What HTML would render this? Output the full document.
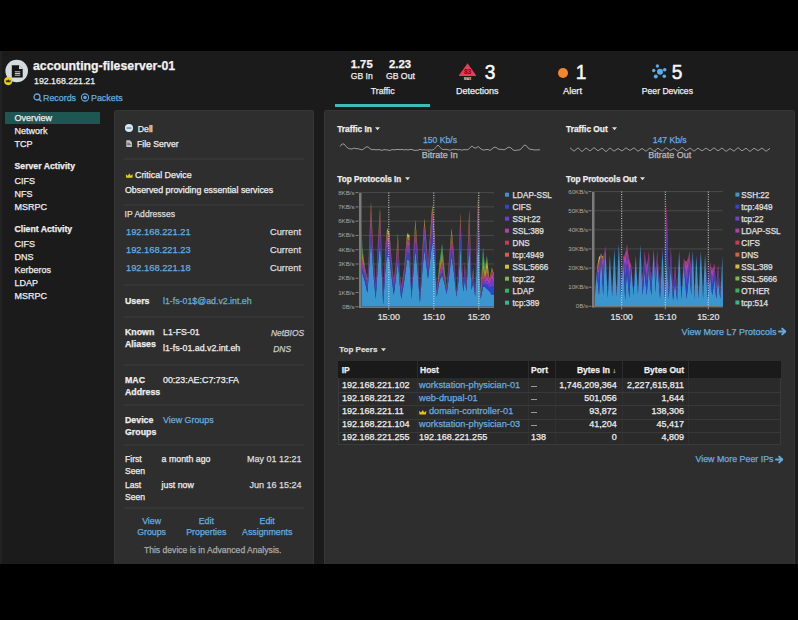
<!DOCTYPE html>
<html><head><meta charset="utf-8"><style>
html,body{margin:0;padding:0;}
body{width:798px;height:620px;background:#000;position:relative;overflow:hidden;font-family:"Liberation Sans", sans-serif;}
.t{position:absolute;white-space:nowrap;line-height:0;-webkit-text-stroke:0.25px currentColor;}
</style></head><body>
<div style="position:absolute;left:0px;top:51px;width:798px;height:513px;background:#1b1b1b;"></div>
<div style="position:absolute;left:0px;top:51px;width:2px;height:513px;background:#222222;"></div>
<svg style="position:absolute;left:0;top:0" width="60" height="100">
<circle cx="16.7" cy="71" r="11.3" fill="#d4dce0"/>
<path d="M11.8 65.2 h7.2 l3.7 3.7 v8.7 h-10.9z" fill="#151515"/>
<path d="M19 65.2 v3.7 h3.7z" fill="#d4dce0"/>
<rect x="14.8" y="71.3" width="5.5" height="1" fill="#c8c8c8"/>
<rect x="14.8" y="73" width="5.5" height="1" fill="#c8c8c8"/>
<rect x="14.8" y="74.7" width="5.5" height="1" fill="#c8c8c8"/>
<circle cx="8.2" cy="81.1" r="4.1" fill="#e6d21a"/>
<path d="M6 82.3 l-0.3-2.6 l1.3 1.1 l1.2-1.6 l1.2 1.6 l1.3-1.1 l-0.3 2.6z" fill="#3a2a10"/>
</svg>
<div class="t" style="left:33.00px;top:66.04px;font-size:12.3px;font-weight:bold;font-style:normal;color:#f2f2f2;">accounting-fileserver-01</div>
<div class="t" style="left:34.00px;top:81.35px;font-size:8.8px;font-weight:normal;font-style:normal;color:#f0f0f0;">192.168.221.21</div>
<svg style="position:absolute;left:30px;top:90px" width="100" height="14">
<circle cx="7" cy="7" r="3" fill="none" stroke="#62a6da" stroke-width="1.3"/>
<path d="M9.2 9.2 l2.2 2.2" stroke="#62a6da" stroke-width="1.5"/>
<circle cx="55" cy="7.5" r="3.6" fill="none" stroke="#62a6da" stroke-width="1.1"/>
<circle cx="55" cy="7.5" r="1.8" fill="#62a6da"/>
</svg>
<div class="t" style="left:43.00px;top:97.92px;font-size:8.9px;font-weight:normal;font-style:normal;color:#68acdf;">Records</div>
<div class="t" style="left:91.00px;top:97.92px;font-size:8.9px;font-weight:normal;font-style:normal;color:#68acdf;">Packets</div>
<div class="t" style="left:361.70px;transform:translateX(-50%);top:64.08px;font-size:11.3px;font-weight:bold;font-style:normal;color:#f4f4f4;">1.75</div>
<div class="t" style="left:400.00px;transform:translateX(-50%);top:64.08px;font-size:11.3px;font-weight:bold;font-style:normal;color:#f4f4f4;">2.23</div>
<div class="t" style="left:361.70px;transform:translateX(-50%);top:76.02px;font-size:8.6px;font-weight:normal;font-style:normal;color:#eeeeee;">GB In</div>
<div class="t" style="left:400.40px;transform:translateX(-50%);top:75.99px;font-size:8.7px;font-weight:normal;font-style:normal;color:#eeeeee;">GB Out</div>
<div class="t" style="left:382.70px;transform:translateX(-50%);top:90.95px;font-size:8.8px;font-weight:normal;font-style:normal;color:#eeeeee;">Traffic</div>
<div style="position:absolute;left:335px;top:104px;width:95px;height:3px;background:#3dbcbe;"></div>
<svg style="position:absolute;left:440px;top:55px" width="60" height="30">
<path d="M27.6 8.3 L36 20.2 Q36.6 21 35.6 21 L19.4 21 Q18.4 21 19 20.2 Z" fill="#ee3a5a"/>
<text x="27.6" y="19.1" font-family="Liberation Sans" font-size="6.6" font-weight="bold" fill="#6a0614" text-anchor="middle">83</text>
<rect x="24" y="22.3" width="7" height="2.5" fill="#1c1c1c"/>
<text x="27.6" y="24.7" font-family="Liberation Sans" font-size="3.2" font-weight="bold" fill="#e6e6e6" text-anchor="middle">MAX</text>
</svg>
<div class="t" style="left:490.00px;transform:translateX(-50%);top:71.99px;font-size:20.8px;font-weight:normal;font-style:normal;color:#f8f8f8;transform:translateX(-50%) scaleX(0.92);-webkit-text-stroke:0.55px #f8f8f8">3</div>
<div class="t" style="left:477.20px;transform:translateX(-50%);top:90.88px;font-size:9.0px;font-weight:normal;font-style:normal;color:#eeeeee;">Detections</div>
<div style="position:absolute;left:557.7px;top:68px;width:10px;height:10px;border-radius:50%;background:#f5862e"></div>
<div class="t" style="left:581.30px;transform:translateX(-50%);top:71.99px;font-size:20.8px;font-weight:normal;font-style:normal;color:#f8f8f8;transform:translateX(-50%) scaleX(0.92);-webkit-text-stroke:0.55px #f8f8f8">1</div>
<div class="t" style="left:572.50px;transform:translateX(-50%);top:90.78px;font-size:9.3px;font-weight:normal;font-style:normal;color:#eeeeee;">Alert</div>
<svg style="position:absolute;left:645px;top:58px" width="30" height="28">
<g fill="#58aee8">
<circle cx="15" cy="13.7" r="3"/>
<circle cx="12.4" cy="8" r="1.7"/>
<circle cx="8.7" cy="12.5" r="1.7"/>
<circle cx="19.7" cy="11.7" r="1.8"/>
<circle cx="10.8" cy="18.6" r="2"/>
<circle cx="19.3" cy="18.3" r="1.8"/>
</g></svg>
<div class="t" style="left:676.70px;transform:translateX(-50%);top:71.99px;font-size:20.8px;font-weight:normal;font-style:normal;color:#f8f8f8;transform:translateX(-50%) scaleX(0.92);-webkit-text-stroke:0.55px #f8f8f8">5</div>
<div class="t" style="left:667.40px;transform:translateX(-50%);top:91.02px;font-size:8.6px;font-weight:normal;font-style:normal;color:#eeeeee;">Peer Devices</div>
<div style="position:absolute;left:5px;top:111.5px;width:95px;height:12.5px;background:#1e5652;"></div>
<div class="t" style="left:14.50px;top:117.88px;font-size:9.0px;font-weight:normal;font-style:normal;color:#eeeeee;">Overview</div>
<div class="t" style="left:14.50px;top:130.88px;font-size:9.0px;font-weight:normal;font-style:normal;color:#eeeeee;">Network</div>
<div class="t" style="left:14.50px;top:143.88px;font-size:9.0px;font-weight:normal;font-style:normal;color:#eeeeee;">TCP</div>
<div class="t" style="left:14.50px;top:166.29px;font-size:8.7px;font-weight:bold;font-style:normal;color:#eeeeee;">Server Activity</div>
<div class="t" style="left:14.50px;top:180.88px;font-size:9.0px;font-weight:normal;font-style:normal;color:#eeeeee;">CIFS</div>
<div class="t" style="left:14.50px;top:193.88px;font-size:9.0px;font-weight:normal;font-style:normal;color:#eeeeee;">NFS</div>
<div class="t" style="left:14.50px;top:206.88px;font-size:9.0px;font-weight:normal;font-style:normal;color:#eeeeee;">MSRPC</div>
<div class="t" style="left:14.50px;top:228.99px;font-size:8.7px;font-weight:bold;font-style:normal;color:#eeeeee;">Client Activity</div>
<div class="t" style="left:14.50px;top:243.88px;font-size:9.0px;font-weight:normal;font-style:normal;color:#eeeeee;">CIFS</div>
<div class="t" style="left:14.50px;top:256.88px;font-size:9.0px;font-weight:normal;font-style:normal;color:#eeeeee;">DNS</div>
<div class="t" style="left:14.50px;top:269.88px;font-size:9.0px;font-weight:normal;font-style:normal;color:#eeeeee;">Kerberos</div>
<div class="t" style="left:14.50px;top:282.88px;font-size:9.0px;font-weight:normal;font-style:normal;color:#eeeeee;">LDAP</div>
<div class="t" style="left:14.50px;top:295.58px;font-size:9.0px;font-weight:normal;font-style:normal;color:#eeeeee;">MSRPC</div>
<div style="position:absolute;left:114px;top:110px;width:200px;height:454px;background:#2e2e2e;border-radius:3px 3px 0 0;border:1px solid #363636;border-bottom:0;box-sizing:border-box"></div>
<div style="position:absolute;left:124px;top:158.0px;width:180px;height:2px;background:#353535;"></div>
<div style="position:absolute;left:124px;top:204.0px;width:180px;height:2px;background:#353535;"></div>
<div style="position:absolute;left:124px;top:284.0px;width:180px;height:2px;background:#353535;"></div>
<div style="position:absolute;left:124px;top:315.5px;width:180px;height:2px;background:#353535;"></div>
<div style="position:absolute;left:124px;top:364.0px;width:180px;height:2px;background:#353535;"></div>
<div style="position:absolute;left:124px;top:404.0px;width:180px;height:2px;background:#353535;"></div>
<div style="position:absolute;left:124px;top:443.5px;width:180px;height:2px;background:#353535;"></div>
<div style="position:absolute;left:124px;top:506.5px;width:180px;height:2px;background:#353535;"></div>
<svg style="position:absolute;left:114px;top:110px" width="30" height="45">
<circle cx="15" cy="18" r="4.3" fill="#cfe3f0"/>
<rect x="12.5" y="17.4" width="5" height="1.3" fill="#3a4a56"/>
<circle cx="15" cy="18" r="5" fill="#1f2a33"/><circle cx="15" cy="18" r="4.1" fill="#d6e8f2"/><rect x="12.6" y="17.5" width="4.8" height="1.1" fill="#5a6a76"/>
<path d="M12.3 30.2 h3.6 l2 2 v4.9 h-5.6z" fill="#c4c4c4"/>
<rect x="13.2" y="32.8" width="2.6" height="0.7" fill="#3a3a3a"/>
<rect x="13.2" y="34.4" width="3.6" height="0.7" fill="#3a3a3a"/>
</svg>
<div class="t" style="left:137.80px;top:128.99px;font-size:8.7px;font-weight:normal;font-style:normal;color:#eeeeee;">Dell</div>
<div class="t" style="left:137.00px;top:144.02px;font-size:8.6px;font-weight:normal;font-style:normal;color:#eeeeee;">File Server</div>
<svg style="position:absolute;left:124px;top:170px" width="12" height="10">
<path d="M2.2 7.8 L1.8 4.2 L3.9 5.7 L5.3 3.3 L6.7 5.7 L8.8 4.2 L8.4 7.8 Z" fill="#e2cf1c"/>
</svg>
<div class="t" style="left:135.00px;top:174.92px;font-size:8.9px;font-weight:normal;font-style:normal;color:#eeeeee;">Critical Device</div>
<div class="t" style="left:125.00px;top:189.95px;font-size:8.8px;font-weight:normal;font-style:normal;color:#eeeeee;">Observed providing essential services</div>
<div class="t" style="left:124.50px;top:214.02px;font-size:8.6px;font-weight:normal;font-style:normal;color:#dddddd;">IP Addresses</div>
<div class="t" style="left:126.00px;top:231.78px;font-size:9.3px;font-weight:normal;font-style:normal;color:#68acdf;">192.168.221.21</div>
<div class="t" style="right:497.00px;top:231.78px;font-size:9.3px;font-weight:normal;font-style:normal;color:#dddddd;">Current</div>
<div class="t" style="left:126.00px;top:250.28px;font-size:9.3px;font-weight:normal;font-style:normal;color:#68acdf;">192.168.221.23</div>
<div class="t" style="right:497.00px;top:250.28px;font-size:9.3px;font-weight:normal;font-style:normal;color:#dddddd;">Current</div>
<div class="t" style="left:126.00px;top:267.78px;font-size:9.3px;font-weight:normal;font-style:normal;color:#68acdf;">192.168.221.18</div>
<div class="t" style="right:497.00px;top:267.78px;font-size:9.3px;font-weight:normal;font-style:normal;color:#dddddd;">Current</div>
<div class="t" style="left:125.00px;top:300.95px;font-size:8.8px;font-weight:bold;font-style:normal;color:#eeeeee;">Users</div>
<div class="t" style="left:163.00px;top:300.95px;font-size:8.8px;font-weight:normal;font-style:normal;color:#68acdf;">l1-fs-01$@ad.v2.int.eh</div>
<div class="t" style="left:125.00px;top:332.45px;font-size:8.8px;font-weight:bold;font-style:normal;color:#eeeeee;">Known</div>
<div class="t" style="left:125.00px;top:343.95px;font-size:8.8px;font-weight:bold;font-style:normal;color:#eeeeee;">Aliases</div>
<div class="t" style="left:163.00px;top:332.45px;font-size:8.8px;font-weight:normal;font-style:normal;color:#eeeeee;">L1-FS-01</div>
<div class="t" style="left:163.00px;top:347.95px;font-size:8.8px;font-weight:normal;font-style:normal;color:#eeeeee;">l1-fs-01.ad.v2.int.eh</div>
<div class="t" style="right:494.00px;top:333.09px;font-size:8.4px;font-weight:normal;font-style:italic;color:#cccccc;">NetBIOS</div>
<div class="t" style="right:507.00px;top:349.09px;font-size:8.4px;font-weight:normal;font-style:italic;color:#cccccc;">DNS</div>
<div class="t" style="left:125.00px;top:379.95px;font-size:8.8px;font-weight:bold;font-style:normal;color:#eeeeee;">MAC</div>
<div class="t" style="left:125.00px;top:391.95px;font-size:8.8px;font-weight:bold;font-style:normal;color:#eeeeee;">Address</div>
<div class="t" style="left:163.00px;top:379.92px;font-size:8.9px;font-weight:normal;font-style:normal;color:#eeeeee;">00:23:AE:C7:73:FA</div>
<div class="t" style="left:125.00px;top:419.95px;font-size:8.8px;font-weight:bold;font-style:normal;color:#eeeeee;">Device</div>
<div class="t" style="left:125.00px;top:431.95px;font-size:8.8px;font-weight:bold;font-style:normal;color:#eeeeee;">Groups</div>
<div class="t" style="left:163.00px;top:419.92px;font-size:8.9px;font-weight:normal;font-style:normal;color:#68acdf;">View Groups</div>
<div class="t" style="left:125.00px;top:459.02px;font-size:8.6px;font-weight:normal;font-style:normal;color:#eeeeee;">First</div>
<div class="t" style="left:125.00px;top:471.02px;font-size:8.6px;font-weight:normal;font-style:normal;color:#eeeeee;">Seen</div>
<div class="t" style="left:161.60px;top:458.95px;font-size:8.8px;font-weight:normal;font-style:normal;color:#eeeeee;">a month ago</div>
<div class="t" style="right:496.50px;top:458.88px;font-size:9.0px;font-weight:normal;font-style:normal;color:#dddddd;">May 01 12:21</div>
<div class="t" style="left:125.00px;top:485.02px;font-size:8.6px;font-weight:normal;font-style:normal;color:#eeeeee;">Last</div>
<div class="t" style="left:125.00px;top:497.02px;font-size:8.6px;font-weight:normal;font-style:normal;color:#eeeeee;">Seen</div>
<div class="t" style="left:161.60px;top:484.95px;font-size:8.8px;font-weight:normal;font-style:normal;color:#eeeeee;">just now</div>
<div class="t" style="right:496.50px;top:484.88px;font-size:9.0px;font-weight:normal;font-style:normal;color:#dddddd;">Jun 16 15:24</div>
<div class="t" style="left:151.60px;transform:translateX(-50%);top:521.45px;font-size:8.8px;font-weight:normal;font-style:normal;color:#68acdf;">View</div>
<div class="t" style="left:151.60px;transform:translateX(-50%);top:531.95px;font-size:8.8px;font-weight:normal;font-style:normal;color:#68acdf;">Groups</div>
<div class="t" style="left:206.30px;transform:translateX(-50%);top:521.45px;font-size:8.8px;font-weight:normal;font-style:normal;color:#68acdf;">Edit</div>
<div class="t" style="left:206.30px;transform:translateX(-50%);top:531.95px;font-size:8.8px;font-weight:normal;font-style:normal;color:#68acdf;">Properties</div>
<div class="t" style="left:267.20px;transform:translateX(-50%);top:521.45px;font-size:8.8px;font-weight:normal;font-style:normal;color:#68acdf;">Edit</div>
<div class="t" style="left:267.20px;transform:translateX(-50%);top:531.95px;font-size:8.8px;font-weight:normal;font-style:normal;color:#68acdf;">Assignments</div>
<div class="t" style="left:212.70px;transform:translateX(-50%);top:550.32px;font-size:8.6px;font-weight:normal;font-style:normal;color:#aaaaaa;">This device is in Advanced Analysis.</div>
<div style="position:absolute;left:324px;top:110px;width:471px;height:454px;background:#2e2e2e;border-radius:3px 3px 0 0;border:1px solid #363636;border-bottom:0;box-sizing:border-box"></div>
<div class="t" style="left:337.20px;top:128.91px;font-size:8.35px;font-weight:bold;font-style:normal;color:#eeeeee;">Traffic In</div>
<div class="t" style="left:566.00px;top:129.11px;font-size:8.35px;font-weight:bold;font-style:normal;color:#eeeeee;">Traffic Out</div>
<svg style="position:absolute;left:375px;top:126.5px" width="6" height="4"><path d="M0 0.3 H5 L2.5 3.2Z" fill="#dddddd"/></svg>
<svg style="position:absolute;left:612px;top:126.5px" width="6" height="4"><path d="M0 0.3 H5 L2.5 3.2Z" fill="#dddddd"/></svg>
<div class="t" style="left:440.00px;transform:translateX(-50%);top:140.02px;font-size:8.6px;font-weight:normal;font-style:normal;color:#68acdf;">150 Kb/s</div>
<div class="t" style="left:439.70px;transform:translateX(-50%);top:154.88px;font-size:9.0px;font-weight:normal;font-style:normal;color:#bbbbbb;">Bitrate In</div>
<div class="t" style="left:669.70px;transform:translateX(-50%);top:140.02px;font-size:8.6px;font-weight:normal;font-style:normal;color:#68acdf;">147 Kb/s</div>
<div class="t" style="left:669.70px;transform:translateX(-50%);top:154.58px;font-size:9.0px;font-weight:normal;font-style:normal;color:#bbbbbb;">Bitrate Out</div>
<svg style="position:absolute;left:0;top:0" width="798" height="620"><polyline points="340,146.5 342,144.0 344,144.0 346,146.5 348,148.2 350,148.9 352,149.0 354,148.0 356,148.7 358,148.7 360,149.3 362,149.9 364,148.7 366,146.9 368,146.9 370,148.7 372,149.7 374,149.5 376,149.9 378,149.6 380,149.7 382,150.4 384,149.6 386,149.8 388,150.1 390,150.5 392,149.5 394,149.9 396,149.6 398,149.4 400,149.6 402,149.4 404,150.0 406,149.5 408,150.0 410,149.4 412,149.4 414,150.4 416,150.3 418,150.2 420,149.3 422,150.0 424,149.7 426,150.1 428,149.9 430,150.0 432,150.1 434,149.4 436,147.2 438,145.0 440,147.2 442,149.4 444,149.5 446,149.3 448,149.7 450,150.3 452,149.5 454,149.3 456,149.4 458,149.8 460,149.6 462,150.2 464,149.5 466,149.8 468,149.6 470,147.8 472,146.0 474,147.8 476,148.1 478,146.5 480,148.1 482,149.7 484,150.1 486,149.6 488,149.5 490,150.4 492,148.9 494,147.3 496,147.3 498,148.9 500,149.4 502,149.3 504,149.9 506,148.9 508,147.3 510,147.3 512,148.9 514,150.5 516,150.3 518,150.0 520,149.8 522,147.9 524,145.3 526,145.3 528,147.9 530,149.3 532,149.4 534,150.0 536,149.9 538,149.9 540,149.7" fill="none" stroke="#9a9a9a" stroke-width="1"/>
<polyline points="570,147.8 574,151.2 578,147.8 582,151.6 586,147.9 590,151.0 594,147.6 598,150.8 602,148.1 606,151.7 610,147.9 614,151.2 618,148.5 622,151.0 626,147.8 630,150.5 634,147.8 638,151.3 642,148.4 646,151.3 650,147.9 654,151.3 658,148.1 662,151.3 666,147.6 670,150.5 674,148.4 678,151.3 682,147.3 686,150.8 690,148.0 694,151.2 698,148.1 702,150.9 706,148.1 710,150.9 714,147.8 718,150.9 722,148.0 726,151.4 730,148.5 734,151.2 738,147.6 742,150.9 746,148.2 750,151.5 754,148.2 758,150.7 762,148.0 766,151.3 770,148.4" fill="none" stroke="#9a9a9a" stroke-width="1"/></svg>
<div class="t" style="left:337.30px;top:179.66px;font-size:8.2px;font-weight:bold;font-style:normal;color:#eeeeee;">Top Protocols In</div>
<svg style="position:absolute;left:404.5px;top:177px" width="6" height="4"><path d="M0 0.3 H5 L2.5 3.2Z" fill="#dddddd"/></svg>
<div class="t" style="left:566.00px;top:179.66px;font-size:8.2px;font-weight:bold;font-style:normal;color:#eeeeee;">Top Protocols Out</div>
<svg style="position:absolute;left:640px;top:177px" width="6" height="4"><path d="M0 0.3 H5 L2.5 3.2Z" fill="#dddddd"/></svg>
<svg style="position:absolute;left:0;top:0" width="798" height="620"><defs><filter id="bl" x="-5%" y="-5%" width="110%" height="110%"><feGaussianBlur stdDeviation="0.55"/></filter></defs>
<line x1="355.5" y1="306.80" x2="358.5" y2="306.80" stroke="#9a9a9a" stroke-width="0.8"/>
<text x="354.5" y="308.80" font-family="Liberation Sans" font-size="6.1" fill="#a8a8a8" text-anchor="end">0B/s</text>
<line x1="361.5" y1="292.53" x2="494" y2="292.53" stroke="#4a4a4a" stroke-width="1"/>
<line x1="355.5" y1="292.53" x2="358.5" y2="292.53" stroke="#9a9a9a" stroke-width="0.8"/>
<text x="354.5" y="294.53" font-family="Liberation Sans" font-size="6.1" fill="#a8a8a8" text-anchor="end">1KB/s</text>
<line x1="361.5" y1="278.25" x2="494" y2="278.25" stroke="#4a4a4a" stroke-width="1"/>
<line x1="355.5" y1="278.25" x2="358.5" y2="278.25" stroke="#9a9a9a" stroke-width="0.8"/>
<text x="354.5" y="280.25" font-family="Liberation Sans" font-size="6.1" fill="#a8a8a8" text-anchor="end">2KB/s</text>
<line x1="361.5" y1="263.98" x2="494" y2="263.98" stroke="#4a4a4a" stroke-width="1"/>
<line x1="355.5" y1="263.98" x2="358.5" y2="263.98" stroke="#9a9a9a" stroke-width="0.8"/>
<text x="354.5" y="265.98" font-family="Liberation Sans" font-size="6.1" fill="#a8a8a8" text-anchor="end">3KB/s</text>
<line x1="361.5" y1="249.70" x2="494" y2="249.70" stroke="#4a4a4a" stroke-width="1"/>
<line x1="355.5" y1="249.70" x2="358.5" y2="249.70" stroke="#9a9a9a" stroke-width="0.8"/>
<text x="354.5" y="251.70" font-family="Liberation Sans" font-size="6.1" fill="#a8a8a8" text-anchor="end">4KB/s</text>
<line x1="361.5" y1="235.43" x2="494" y2="235.43" stroke="#4a4a4a" stroke-width="1"/>
<line x1="355.5" y1="235.43" x2="358.5" y2="235.43" stroke="#9a9a9a" stroke-width="0.8"/>
<text x="354.5" y="237.43" font-family="Liberation Sans" font-size="6.1" fill="#a8a8a8" text-anchor="end">5KB/s</text>
<line x1="361.5" y1="221.15" x2="494" y2="221.15" stroke="#4a4a4a" stroke-width="1"/>
<line x1="355.5" y1="221.15" x2="358.5" y2="221.15" stroke="#9a9a9a" stroke-width="0.8"/>
<text x="354.5" y="223.15" font-family="Liberation Sans" font-size="6.1" fill="#a8a8a8" text-anchor="end">6KB/s</text>
<line x1="361.5" y1="206.88" x2="494" y2="206.88" stroke="#4a4a4a" stroke-width="1"/>
<line x1="355.5" y1="206.88" x2="358.5" y2="206.88" stroke="#9a9a9a" stroke-width="0.8"/>
<text x="354.5" y="208.88" font-family="Liberation Sans" font-size="6.1" fill="#a8a8a8" text-anchor="end">7KB/s</text>
<line x1="361.5" y1="192.60" x2="494" y2="192.60" stroke="#4a4a4a" stroke-width="1"/>
<line x1="355.5" y1="192.60" x2="358.5" y2="192.60" stroke="#9a9a9a" stroke-width="0.8"/>
<text x="354.5" y="194.60" font-family="Liberation Sans" font-size="6.1" fill="#a8a8a8" text-anchor="end">8KB/s</text>
<text x="388.8" y="320" font-family="Liberation Sans" font-size="8.9" fill="#e4e4e4" text-anchor="middle" stroke="#e4e4e4" stroke-width="0.2">15:00</text>
<text x="433.8" y="320" font-family="Liberation Sans" font-size="8.9" fill="#e4e4e4" text-anchor="middle" stroke="#e4e4e4" stroke-width="0.2">15:10</text>
<text x="478.8" y="320" font-family="Liberation Sans" font-size="8.9" fill="#e4e4e4" text-anchor="middle" stroke="#e4e4e4" stroke-width="0.2">15:20</text>
<clipPath id="cin"><rect x="361.5" y="189.6" width="132.5" height="117.20000000000002"/></clipPath><g clip-path="url(#cin)"><g filter="url(#bl)">
<polygon points="361.50,271.24 361.54,271.24 362.33,273.21 364.88,281.51 367.44,292.97 368.81,272.66 370.98,239.15 373.34,272.66 375.70,298.90 377.66,268.87 380.02,242.94 381.59,268.87 383.17,304.82 385.53,267.60 387.10,256.22 389.46,259.38 391.43,275.19 393.78,294.95 395.75,279.14 397.91,259.38 399.68,284.04 401.26,298.90 404.21,281.51 407.15,259.38 409.51,260.65 411.48,298.90 413.64,268.87 415.41,250.53 417.38,268.87 419.93,302.85 422.49,268.87 424.46,249.90 426.82,268.87 427.97,278.98 432.29,241.05 434.85,262.54 436.81,296.68 439.37,281.11 442.12,275.19 444.68,284.04 446.64,294.16 449.20,275.19 451.56,256.22 453.92,272.66 456.48,296.68 458.44,281.51 460.41,246.10 462.37,281.51 463.36,291.63 464.93,277.72 466.31,291.63 469.26,244.21 471.62,290.36 473.19,281.51 475.15,296.68 478.10,233.46 480.66,298.90 483.02,287.04 484.99,287.04 486.95,289.02 489.31,290.99 491.87,294.95 494.42,294.95 496.00,298.90 494.00,298.90 494.00,306.80 496.00,306.80 494.42,306.80 491.87,306.80 489.31,306.80 486.95,306.80 484.99,306.80 483.02,306.80 480.66,306.80 478.10,306.80 475.15,306.80 473.19,306.80 471.62,306.80 469.26,306.80 466.31,306.80 464.93,306.80 463.36,306.80 462.37,306.80 460.41,306.80 458.44,306.80 456.48,306.80 453.92,306.80 451.56,306.80 449.20,306.80 446.64,306.80 444.68,306.80 442.12,306.80 439.37,306.80 436.81,306.80 434.85,306.80 432.29,306.80 427.97,306.80 426.82,306.80 424.46,306.80 422.49,306.80 419.93,306.80 417.38,306.80 415.41,306.80 413.64,306.80 411.48,306.80 409.51,306.80 407.15,306.80 404.21,306.80 401.26,306.80 399.68,306.80 397.91,306.80 395.75,306.80 393.78,306.80 391.43,306.80 389.46,306.80 387.10,306.80 385.53,306.80 383.17,306.80 381.59,306.80 380.02,306.80 377.66,306.80 375.70,306.80 373.34,306.80 370.98,306.80 368.81,306.80 367.44,306.80 364.88,306.80 362.33,306.80 361.54,306.80 361.50,306.80" fill="#3a96cf"/>
<polygon points="361.50,265.87 361.54,265.12 362.33,270.40 364.88,276.48 367.44,289.63 368.81,267.69 370.98,229.36 373.34,266.09 375.70,294.35 377.66,261.54 380.02,231.78 381.59,263.89 383.17,301.41 385.53,259.89 387.10,246.86 389.46,251.01 391.43,270.53 393.78,290.81 395.75,275.00 397.91,251.51 399.68,281.02 401.26,295.33 404.21,277.27 407.15,252.28 409.51,253.96 411.48,296.87 413.64,261.81 415.41,242.14 417.38,262.54 419.93,300.82 422.49,263.44 424.46,239.62 426.82,262.37 427.97,274.15 432.29,228.99 434.85,254.31 436.81,294.83 439.37,279.13 442.12,272.33 444.68,282.16 446.64,291.60 449.20,270.45 451.56,249.54 453.92,266.10 456.48,295.18 458.44,276.54 460.41,235.39 462.37,277.31 463.36,289.02 464.93,272.77 466.31,289.23 469.26,234.93 471.62,287.66 473.19,277.67 475.15,294.84 478.10,223.57 480.66,298.07 483.02,282.91 484.99,284.76 486.95,284.46 489.31,287.72 491.87,286.05 494.42,287.81 496.00,296.67 494.00,296.33 494.00,298.90 496.00,298.90 494.42,294.95 491.87,294.95 489.31,290.99 486.95,289.02 484.99,287.04 483.02,287.04 480.66,298.90 478.10,233.46 475.15,296.68 473.19,281.51 471.62,290.36 469.26,244.21 466.31,291.63 464.93,277.72 463.36,291.63 462.37,281.51 460.41,246.10 458.44,281.51 456.48,296.68 453.92,272.66 451.56,256.22 449.20,275.19 446.64,294.16 444.68,284.04 442.12,275.19 439.37,281.11 436.81,296.68 434.85,262.54 432.29,241.05 427.97,278.98 426.82,268.87 424.46,249.90 422.49,268.87 419.93,302.85 417.38,268.87 415.41,250.53 413.64,268.87 411.48,298.90 409.51,260.65 407.15,259.38 404.21,281.51 401.26,298.90 399.68,284.04 397.91,259.38 395.75,279.14 393.78,294.95 391.43,275.19 389.46,259.38 387.10,256.22 385.53,267.60 383.17,304.82 381.59,268.87 380.02,242.94 377.66,268.87 375.70,298.90 373.34,272.66 370.98,239.15 368.81,272.66 367.44,292.97 364.88,281.51 362.33,273.21 361.54,271.24 361.50,271.24" fill="#2f45d0"/>
<polygon points="361.50,260.21 361.54,258.29 362.33,266.59 364.88,273.10 367.44,285.17 368.81,262.36 370.98,220.21 373.34,261.08 375.70,290.09 377.66,257.08 380.02,223.29 381.59,256.43 383.17,296.45 385.53,254.83 387.10,240.53 389.46,243.91 391.43,265.19 393.78,286.39 395.75,270.20 397.91,246.16 399.68,277.06 401.26,291.86 404.21,272.89 407.15,245.52 409.51,246.03 411.48,294.27 413.64,255.71 415.41,232.83 417.38,256.47 419.93,298.15 422.49,256.82 424.46,231.37 426.82,256.43 427.97,269.79 432.29,220.14 434.85,248.80 436.81,293.30 439.37,277.33 442.12,268.18 444.68,280.47 446.64,289.87 449.20,265.23 451.56,242.15 453.92,260.61 456.48,293.26 458.44,273.45 460.41,227.34 462.37,273.30 463.36,286.61 464.93,267.51 466.31,286.99 469.26,227.20 471.62,284.53 473.19,273.60 475.15,293.12 478.10,214.78 480.66,297.26 483.02,278.25 484.99,282.32 486.95,280.42 489.31,284.42 491.87,278.59 494.42,283.13 496.00,294.25 494.00,293.97 494.00,296.33 496.00,296.67 494.42,287.81 491.87,286.05 489.31,287.72 486.95,284.46 484.99,284.76 483.02,282.91 480.66,298.07 478.10,223.57 475.15,294.84 473.19,277.67 471.62,287.66 469.26,234.93 466.31,289.23 464.93,272.77 463.36,289.02 462.37,277.31 460.41,235.39 458.44,276.54 456.48,295.18 453.92,266.10 451.56,249.54 449.20,270.45 446.64,291.60 444.68,282.16 442.12,272.33 439.37,279.13 436.81,294.83 434.85,254.31 432.29,228.99 427.97,274.15 426.82,262.37 424.46,239.62 422.49,263.44 419.93,300.82 417.38,262.54 415.41,242.14 413.64,261.81 411.48,296.87 409.51,253.96 407.15,252.28 404.21,277.27 401.26,295.33 399.68,281.02 397.91,251.51 395.75,275.00 393.78,290.81 391.43,270.53 389.46,251.01 387.10,246.86 385.53,259.89 383.17,301.41 381.59,263.89 380.02,231.78 377.66,261.54 375.70,294.35 373.34,266.09 370.98,229.36 368.81,267.69 367.44,289.63 364.88,276.48 362.33,270.40 361.54,265.12 361.50,265.87" fill="#6d3fcf"/>
<polygon points="361.50,254.41 361.54,253.71 362.33,263.01 364.88,270.19 367.44,281.73 368.81,257.02 370.98,212.57 373.34,256.31 375.70,287.33 377.66,251.01 380.02,216.92 381.59,251.21 383.17,293.76 385.53,249.61 387.10,235.70 389.46,239.31 391.43,260.64 393.78,282.73 395.75,266.48 397.91,241.07 399.68,273.52 401.26,289.23 404.21,269.89 407.15,240.82 409.51,242.31 411.48,292.59 413.64,251.15 415.41,228.46 417.38,251.82 419.93,296.31 422.49,251.62 424.46,226.64 426.82,250.99 427.97,266.25 432.29,215.23 434.85,244.64 436.81,292.10 439.37,275.07 442.12,263.54 444.68,279.21 446.64,288.33 449.20,261.02 451.56,236.93 453.92,256.80 456.48,292.06 458.44,269.60 460.41,220.88 462.37,270.32 463.36,284.38 464.93,264.52 466.31,284.82 469.26,220.59 471.62,282.75 473.19,270.42 475.15,292.02 478.10,205.16 480.66,296.02 483.02,273.20 484.99,280.42 486.95,274.99 489.31,281.05 491.87,272.38 494.42,278.72 496.00,292.39 494.00,292.34 494.00,293.97 496.00,294.25 494.42,283.13 491.87,278.59 489.31,284.42 486.95,280.42 484.99,282.32 483.02,278.25 480.66,297.26 478.10,214.78 475.15,293.12 473.19,273.60 471.62,284.53 469.26,227.20 466.31,286.99 464.93,267.51 463.36,286.61 462.37,273.30 460.41,227.34 458.44,273.45 456.48,293.26 453.92,260.61 451.56,242.15 449.20,265.23 446.64,289.87 444.68,280.47 442.12,268.18 439.37,277.33 436.81,293.30 434.85,248.80 432.29,220.14 427.97,269.79 426.82,256.43 424.46,231.37 422.49,256.82 419.93,298.15 417.38,256.47 415.41,232.83 413.64,255.71 411.48,294.27 409.51,246.03 407.15,245.52 404.21,272.89 401.26,291.86 399.68,277.06 397.91,246.16 395.75,270.20 393.78,286.39 391.43,265.19 389.46,243.91 387.10,240.53 385.53,254.83 383.17,296.45 381.59,256.43 380.02,223.29 377.66,257.08 375.70,290.09 373.34,261.08 370.98,220.21 368.81,262.36 367.44,285.17 364.88,273.10 362.33,266.59 361.54,258.29 361.50,260.21" fill="#b13db9"/>
<polygon points="361.50,251.33 361.54,250.91 362.33,261.70 364.88,269.14 367.44,280.77 368.81,256.07 370.98,210.77 373.34,255.44 375.70,286.63 377.66,250.02 380.02,214.95 381.59,249.98 383.17,292.88 385.53,248.50 387.10,233.90 389.46,237.87 391.43,259.54 393.78,281.99 395.75,265.38 397.91,239.35 399.68,272.81 401.26,288.50 404.21,268.93 407.15,239.24 409.51,240.74 411.48,292.05 413.64,250.15 415.41,226.90 417.38,250.61 419.93,295.87 422.49,250.42 424.46,225.04 426.82,250.01 427.97,265.18 432.29,212.76 434.85,242.92 436.81,291.71 439.37,273.82 442.12,261.21 444.68,278.53 446.64,287.88 449.20,259.81 451.56,234.84 453.92,255.79 456.48,291.75 458.44,268.93 460.41,219.35 462.37,269.26 463.36,283.91 464.93,263.53 466.31,284.27 469.26,218.88 471.62,282.16 473.19,269.47 475.15,291.74 478.10,202.47 480.66,295.51 483.02,270.80 484.99,279.33 486.95,272.17 489.31,280.43 491.87,270.67 494.42,277.57 496.00,291.90 494.00,291.81 494.00,292.34 496.00,292.39 494.42,278.72 491.87,272.38 489.31,281.05 486.95,274.99 484.99,280.42 483.02,273.20 480.66,296.02 478.10,205.16 475.15,292.02 473.19,270.42 471.62,282.75 469.26,220.59 466.31,284.82 464.93,264.52 463.36,284.38 462.37,270.32 460.41,220.88 458.44,269.60 456.48,292.06 453.92,256.80 451.56,236.93 449.20,261.02 446.64,288.33 444.68,279.21 442.12,263.54 439.37,275.07 436.81,292.10 434.85,244.64 432.29,215.23 427.97,266.25 426.82,250.99 424.46,226.64 422.49,251.62 419.93,296.31 417.38,251.82 415.41,228.46 413.64,251.15 411.48,292.59 409.51,242.31 407.15,240.82 404.21,269.89 401.26,289.23 399.68,273.52 397.91,241.07 395.75,266.48 393.78,282.73 391.43,260.64 389.46,239.31 387.10,235.70 385.53,249.61 383.17,293.76 381.59,251.21 380.02,216.92 377.66,251.01 375.70,287.33 373.34,256.31 370.98,212.57 368.81,257.02 367.44,281.73 364.88,270.19 362.33,263.01 361.54,253.71 361.50,254.41" fill="#c93a55"/>
<polygon points="361.50,245.67 361.54,245.94 362.33,258.07 364.88,268.14 367.44,279.83 368.81,254.68 370.98,205.05 373.34,254.55 375.70,285.88 377.66,248.87 380.02,211.26 381.59,248.86 383.17,291.85 385.53,246.92 387.10,230.69 389.46,235.22 391.43,258.46 393.78,280.97 395.75,264.37 397.91,236.18 399.68,272.01 401.26,287.72 404.21,268.00 407.15,236.38 409.51,237.81 411.48,291.56 413.64,248.87 415.41,222.88 417.38,248.94 419.93,295.45 422.49,248.90 424.46,222.05 426.82,248.64 427.97,264.18 432.29,208.59 434.85,240.44 436.81,291.30 439.37,272.11 442.12,257.09 444.68,276.67 446.64,287.50 449.20,258.66 451.56,231.28 453.92,254.69 456.48,291.35 458.44,268.21 460.41,215.41 462.37,268.29 463.36,283.52 464.93,262.34 466.31,283.58 469.26,213.49 471.62,281.67 473.19,268.22 475.15,291.38 478.10,198.12 480.66,294.25 483.02,266.69 484.99,277.40 486.95,266.66 489.31,279.84 491.87,269.11 494.42,276.35 496.00,291.45 494.00,291.37 494.00,291.81 496.00,291.90 494.42,277.57 491.87,270.67 489.31,280.43 486.95,272.17 484.99,279.33 483.02,270.80 480.66,295.51 478.10,202.47 475.15,291.74 473.19,269.47 471.62,282.16 469.26,218.88 466.31,284.27 464.93,263.53 463.36,283.91 462.37,269.26 460.41,219.35 458.44,268.93 456.48,291.75 453.92,255.79 451.56,234.84 449.20,259.81 446.64,287.88 444.68,278.53 442.12,261.21 439.37,273.82 436.81,291.71 434.85,242.92 432.29,212.76 427.97,265.18 426.82,250.01 424.46,225.04 422.49,250.42 419.93,295.87 417.38,250.61 415.41,226.90 413.64,250.15 411.48,292.05 409.51,240.74 407.15,239.24 404.21,268.93 401.26,288.50 399.68,272.81 397.91,239.35 395.75,265.38 393.78,281.99 391.43,259.54 389.46,237.87 387.10,233.90 385.53,248.50 383.17,292.88 381.59,249.98 380.02,214.95 377.66,250.02 375.70,286.63 373.34,255.44 370.98,210.77 368.81,256.07 367.44,280.77 364.88,269.14 362.33,261.70 361.54,250.91 361.50,251.33" fill="#d9603f"/>
<polygon points="361.50,238.53 361.54,239.16 362.33,255.05 364.88,267.76 367.44,279.48 368.81,254.10 370.98,202.71 373.34,254.07 375.70,285.45 377.66,248.22 380.02,208.69 381.59,248.19 383.17,291.49 385.53,246.32 387.10,228.76 389.46,233.69 391.43,257.89 393.78,280.52 395.75,263.82 397.91,233.79 399.68,271.61 401.26,287.35 404.21,267.67 407.15,233.94 409.51,235.71 411.48,291.29 413.64,248.24 415.41,220.14 417.38,248.31 419.93,295.17 422.49,248.12 424.46,219.05 426.82,248.10 427.97,263.82 432.29,205.60 434.85,238.69 436.81,291.16 439.37,269.92 442.12,253.71 444.68,275.20 446.64,287.31 449.20,257.95 451.56,228.83 453.92,254.04 456.48,291.19 458.44,267.68 460.41,213.11 462.37,267.76 463.36,283.32 464.93,261.81 466.31,283.34 469.26,210.71 471.62,281.37 473.19,267.75 475.15,291.17 478.10,194.28 480.66,293.32 483.02,261.93 484.99,274.54 486.95,259.34 489.31,279.51 491.87,268.16 494.42,275.83 496.00,291.24 494.00,291.19 494.00,291.37 496.00,291.45 494.42,276.35 491.87,269.11 489.31,279.84 486.95,266.66 484.99,277.40 483.02,266.69 480.66,294.25 478.10,198.12 475.15,291.38 473.19,268.22 471.62,281.67 469.26,213.49 466.31,283.58 464.93,262.34 463.36,283.52 462.37,268.29 460.41,215.41 458.44,268.21 456.48,291.35 453.92,254.69 451.56,231.28 449.20,258.66 446.64,287.50 444.68,276.67 442.12,257.09 439.37,272.11 436.81,291.30 434.85,240.44 432.29,208.59 427.97,264.18 426.82,248.64 424.46,222.05 422.49,248.90 419.93,295.45 417.38,248.94 415.41,222.88 413.64,248.87 411.48,291.56 409.51,237.81 407.15,236.38 404.21,268.00 401.26,287.72 399.68,272.01 397.91,236.18 395.75,264.37 393.78,280.97 391.43,258.46 389.46,235.22 387.10,230.69 385.53,246.92 383.17,291.85 381.59,248.86 380.02,211.26 377.66,248.87 375.70,285.88 373.34,254.55 370.98,205.05 368.81,254.68 367.44,279.83 364.88,268.14 362.33,258.07 361.54,245.94 361.50,245.67" fill="#c9c23a"/>
<polygon points="361.50,234.67 361.54,233.26 362.33,251.71 364.88,267.58 367.44,279.36 368.81,253.91 370.98,201.84 373.34,253.83 375.70,285.35 377.66,247.97 380.02,207.83 381.59,247.94 383.17,291.33 385.53,246.10 387.10,228.24 389.46,233.27 391.43,257.74 393.78,280.37 395.75,263.68 397.91,233.20 399.68,271.47 401.26,287.22 404.21,267.52 407.15,233.36 409.51,235.26 411.48,291.18 413.64,247.99 415.41,219.61 417.38,248.03 419.93,295.09 422.49,247.95 424.46,218.51 426.82,247.89 427.97,263.68 432.29,204.80 434.85,238.12 436.81,291.11 439.37,267.41 442.12,249.33 444.68,273.58 446.64,287.23 449.20,257.77 451.56,228.32 453.92,253.88 456.48,291.11 458.44,267.53 460.41,212.57 462.37,267.62 463.36,283.25 464.93,261.65 466.31,283.26 469.26,209.81 471.62,281.27 473.19,267.60 475.15,291.12 478.10,193.11 480.66,292.42 483.02,255.38 484.99,271.64 486.95,257.08 489.31,279.42 491.87,267.83 494.42,275.63 496.00,291.16 494.00,291.13 494.00,291.19 496.00,291.24 494.42,275.83 491.87,268.16 489.31,279.51 486.95,259.34 484.99,274.54 483.02,261.93 480.66,293.32 478.10,194.28 475.15,291.17 473.19,267.75 471.62,281.37 469.26,210.71 466.31,283.34 464.93,261.81 463.36,283.32 462.37,267.76 460.41,213.11 458.44,267.68 456.48,291.19 453.92,254.04 451.56,228.83 449.20,257.95 446.64,287.31 444.68,275.20 442.12,253.71 439.37,269.92 436.81,291.16 434.85,238.69 432.29,205.60 427.97,263.82 426.82,248.10 424.46,219.05 422.49,248.12 419.93,295.17 417.38,248.31 415.41,220.14 413.64,248.24 411.48,291.29 409.51,235.71 407.15,233.94 404.21,267.67 401.26,287.35 399.68,271.61 397.91,233.79 395.75,263.82 393.78,280.52 391.43,257.89 389.46,233.69 387.10,228.76 385.53,246.32 383.17,291.49 381.59,248.19 380.02,208.69 377.66,248.22 375.70,285.45 373.34,254.07 370.98,202.71 368.81,254.10 367.44,279.48 364.88,267.76 362.33,255.05 361.54,239.16 361.50,238.53" fill="#7dbb3a"/>
<polygon points="361.50,228.88 361.54,228.23 362.33,248.71 364.88,267.44 367.44,279.25 368.81,253.66 370.98,201.39 373.34,253.67 375.70,285.21 377.66,247.78 380.02,207.35 381.59,247.73 383.17,291.15 385.53,245.82 387.10,228.02 389.46,232.99 391.43,257.55 393.78,280.27 395.75,263.51 397.91,232.95 399.68,271.37 401.26,287.14 404.21,267.40 407.15,233.03 409.51,234.94 411.48,291.08 413.64,247.74 415.41,219.27 417.38,247.76 419.93,295.02 422.49,247.72 424.46,218.19 426.82,247.71 427.97,263.52 432.29,204.42 434.85,237.93 436.81,291.05 439.37,264.51 442.12,245.58 444.68,271.87 446.64,287.14 449.20,257.62 451.56,228.02 453.92,253.66 456.48,291.05 458.44,267.40 460.41,212.29 462.37,267.44 463.36,283.19 464.93,261.49 466.31,283.17 469.26,209.40 471.62,281.19 473.19,267.43 475.15,291.06 478.10,192.64 480.66,291.48 483.02,250.19 484.99,268.70 486.95,256.29 489.31,279.28 491.87,267.54 494.42,275.43 496.00,291.08 494.00,291.06 494.00,291.13 496.00,291.16 494.42,275.63 491.87,267.83 489.31,279.42 486.95,257.08 484.99,271.64 483.02,255.38 480.66,292.42 478.10,193.11 475.15,291.12 473.19,267.60 471.62,281.27 469.26,209.81 466.31,283.26 464.93,261.65 463.36,283.25 462.37,267.62 460.41,212.57 458.44,267.53 456.48,291.11 453.92,253.88 451.56,228.32 449.20,257.77 446.64,287.23 444.68,273.58 442.12,249.33 439.37,267.41 436.81,291.11 434.85,238.12 432.29,204.80 427.97,263.68 426.82,247.89 424.46,218.51 422.49,247.95 419.93,295.09 417.38,248.03 415.41,219.61 413.64,247.99 411.48,291.18 409.51,235.26 407.15,233.36 404.21,267.52 401.26,287.22 399.68,271.47 397.91,233.20 395.75,263.68 393.78,280.37 391.43,257.74 389.46,233.27 387.10,228.24 385.53,246.10 383.17,291.33 381.59,247.94 380.02,207.83 377.66,247.97 375.70,285.35 373.34,253.83 370.98,201.84 368.81,253.91 367.44,279.36 364.88,267.58 362.33,251.71 361.54,233.26 361.50,234.67" fill="#33b558"/>
<polygon points="361.50,225.79 361.54,225.79 362.33,247.53 364.88,267.28 367.44,279.14 368.81,253.45 370.98,201.10 373.34,253.45 375.70,285.07 377.66,247.53 380.02,207.02 381.59,247.53 383.17,290.99 385.53,245.55 387.10,227.77 389.46,232.71 391.43,257.41 393.78,280.13 395.75,263.33 397.91,232.71 399.68,271.24 401.26,287.04 404.21,267.28 407.15,232.71 409.51,234.68 411.48,290.99 413.64,247.53 415.41,218.88 417.38,247.53 419.93,294.95 422.49,247.53 424.46,217.89 426.82,247.53 427.97,263.33 432.29,204.06 434.85,237.65 436.81,290.99 439.37,263.33 442.12,243.58 444.68,271.24 446.64,287.04 449.20,257.41 451.56,227.77 453.92,253.45 456.48,290.99 458.44,267.28 460.41,211.96 462.37,267.28 463.36,283.09 464.93,261.36 466.31,283.09 469.26,209.00 471.62,281.11 473.19,267.28 475.15,290.99 478.10,192.20 480.66,290.99 483.02,247.53 484.99,267.28 486.95,255.43 489.31,279.14 491.87,267.28 494.42,275.19 496.00,290.99 494.00,290.99 494.00,291.06 496.00,291.08 494.42,275.43 491.87,267.54 489.31,279.28 486.95,256.29 484.99,268.70 483.02,250.19 480.66,291.48 478.10,192.64 475.15,291.06 473.19,267.43 471.62,281.19 469.26,209.40 466.31,283.17 464.93,261.49 463.36,283.19 462.37,267.44 460.41,212.29 458.44,267.40 456.48,291.05 453.92,253.66 451.56,228.02 449.20,257.62 446.64,287.14 444.68,271.87 442.12,245.58 439.37,264.51 436.81,291.05 434.85,237.93 432.29,204.42 427.97,263.52 426.82,247.71 424.46,218.19 422.49,247.72 419.93,295.02 417.38,247.76 415.41,219.27 413.64,247.74 411.48,291.08 409.51,234.94 407.15,233.03 404.21,267.40 401.26,287.14 399.68,271.37 397.91,232.95 395.75,263.51 393.78,280.27 391.43,257.55 389.46,232.99 387.10,228.02 385.53,245.82 383.17,291.15 381.59,247.73 380.02,207.35 377.66,247.78 375.70,285.21 373.34,253.67 370.98,201.39 368.81,253.66 367.44,279.25 364.88,267.44 362.33,248.71 361.54,228.23 361.50,228.88" fill="#34b592"/>
</g></g>
<line x1="388.8" y1="192.6" x2="388.8" y2="306.8" stroke="#eeeeee" stroke-width="0.9" stroke-dasharray="1,1.4"/>
<line x1="388.8" y1="306.8" x2="388.8" y2="309.8" stroke="#aaa" stroke-width="0.8"/>
<line x1="433.8" y1="192.6" x2="433.8" y2="306.8" stroke="#eeeeee" stroke-width="0.9" stroke-dasharray="1,1.4"/>
<line x1="433.8" y1="306.8" x2="433.8" y2="309.8" stroke="#aaa" stroke-width="0.8"/>
<line x1="478.8" y1="192.6" x2="478.8" y2="306.8" stroke="#eeeeee" stroke-width="0.9" stroke-dasharray="1,1.4"/>
<line x1="478.8" y1="306.8" x2="478.8" y2="309.8" stroke="#aaa" stroke-width="0.8"/>
<rect x="359.0" y="192.6" width="2.5" height="115.20000000000002" fill="#7c7c7c"/>
<line x1="359.0" y1="307.3" x2="494" y2="307.3" stroke="#8a8a8a" stroke-width="1"/>
<line x1="588.5" y1="306.30" x2="591.5" y2="306.30" stroke="#9a9a9a" stroke-width="0.8"/>
<text x="588" y="308.30" font-family="Liberation Sans" font-size="6.1" fill="#a8a8a8" text-anchor="end">0B/s</text>
<line x1="594.5" y1="287.18" x2="723" y2="287.18" stroke="#4a4a4a" stroke-width="1"/>
<line x1="588.5" y1="287.18" x2="591.5" y2="287.18" stroke="#9a9a9a" stroke-width="0.8"/>
<text x="588" y="289.18" font-family="Liberation Sans" font-size="6.1" fill="#a8a8a8" text-anchor="end">10KB/s</text>
<line x1="594.5" y1="268.07" x2="723" y2="268.07" stroke="#4a4a4a" stroke-width="1"/>
<line x1="588.5" y1="268.07" x2="591.5" y2="268.07" stroke="#9a9a9a" stroke-width="0.8"/>
<text x="588" y="270.07" font-family="Liberation Sans" font-size="6.1" fill="#a8a8a8" text-anchor="end">20KB/s</text>
<line x1="594.5" y1="248.95" x2="723" y2="248.95" stroke="#4a4a4a" stroke-width="1"/>
<line x1="588.5" y1="248.95" x2="591.5" y2="248.95" stroke="#9a9a9a" stroke-width="0.8"/>
<text x="588" y="250.95" font-family="Liberation Sans" font-size="6.1" fill="#a8a8a8" text-anchor="end">30KB/s</text>
<line x1="594.5" y1="229.83" x2="723" y2="229.83" stroke="#4a4a4a" stroke-width="1"/>
<line x1="588.5" y1="229.83" x2="591.5" y2="229.83" stroke="#9a9a9a" stroke-width="0.8"/>
<text x="588" y="231.83" font-family="Liberation Sans" font-size="6.1" fill="#a8a8a8" text-anchor="end">40KB/s</text>
<line x1="594.5" y1="210.72" x2="723" y2="210.72" stroke="#4a4a4a" stroke-width="1"/>
<line x1="588.5" y1="210.72" x2="591.5" y2="210.72" stroke="#9a9a9a" stroke-width="0.8"/>
<text x="588" y="212.72" font-family="Liberation Sans" font-size="6.1" fill="#a8a8a8" text-anchor="end">50KB/s</text>
<line x1="594.5" y1="191.60" x2="723" y2="191.60" stroke="#4a4a4a" stroke-width="1"/>
<line x1="588.5" y1="191.60" x2="591.5" y2="191.60" stroke="#9a9a9a" stroke-width="0.8"/>
<text x="588" y="193.60" font-family="Liberation Sans" font-size="6.1" fill="#a8a8a8" text-anchor="end">60KB/s</text>
<text x="621.7" y="320" font-family="Liberation Sans" font-size="8.9" fill="#e4e4e4" text-anchor="middle" stroke="#e4e4e4" stroke-width="0.2">15:00</text>
<text x="665.3" y="320" font-family="Liberation Sans" font-size="8.9" fill="#e4e4e4" text-anchor="middle" stroke="#e4e4e4" stroke-width="0.2">15:10</text>
<text x="708.3" y="320" font-family="Liberation Sans" font-size="8.9" fill="#e4e4e4" text-anchor="middle" stroke="#e4e4e4" stroke-width="0.2">15:20</text>
<clipPath id="cout"><rect x="594.5" y="188.6" width="128.5" height="117.70000000000002"/></clipPath><g clip-path="url(#cout)"><g filter="url(#bl)">
<polygon points="594.50,300.56 595.94,282.48 596.84,271.28 597.74,282.48 599.01,295.46 600.17,271.79 601.07,255.56 601.97,271.79 603.12,295.46 604.40,265.22 605.30,245.88 606.20,265.22 607.72,297.88 609.00,271.38 609.90,254.95 610.80,271.38 612.19,296.67 613.47,267.27 614.37,248.91 615.27,267.27 616.67,296.67 617.94,263.57 618.84,243.46 619.74,263.57 621.02,297.88 622.30,274.26 623.20,259.18 624.10,274.26 625.13,300.30 626.17,282.48 627.07,271.28 627.97,282.48 629.24,297.88 630.40,279.19 631.30,266.44 632.20,279.19 633.60,295.46 634.87,271.79 635.77,255.56 636.67,271.79 637.95,294.25 639.47,264.39 640.37,244.67 641.27,264.39 642.54,295.46 643.70,282.48 644.60,271.28 645.50,282.48 646.66,295.46 647.93,279.19 648.83,266.44 649.73,279.19 651.25,295.46 652.77,267.27 653.67,248.91 654.57,267.27 655.48,293.04 656.40,274.26 657.30,259.18 658.20,274.26 660.08,298.90 661.59,268.46 662.49,250.66 663.39,268.46 664.71,298.90 666.75,256.22 668.78,298.90 669.92,278.56 670.82,265.50 671.72,278.56 673.05,300.75 674.18,289.91 675.08,282.20 675.98,289.91 677.12,300.75 678.26,268.46 679.16,250.66 680.06,268.46 681.38,298.90 682.89,276.03 683.79,261.79 684.69,276.03 686.57,298.90 688.45,281.08 689.35,269.21 690.25,281.08 691.20,295.19 691.79,268.46 692.69,250.66 693.59,268.46 694.54,298.90 695.49,272.25 696.39,256.22 697.29,272.25 698.62,298.90 699.94,268.46 700.84,250.66 701.74,268.46 703.06,298.90 704.20,270.99 705.10,254.37 706.00,270.99 707.51,298.90 709.20,283.60 710.10,272.92 711.00,283.60 712.14,295.19 713.47,287.39 714.37,278.49 715.27,287.39 716.22,298.90 717.17,287.39 718.07,278.49 718.97,287.39 720.29,298.90 722.33,256.22 723.00,294.83 723.00,306.30 722.33,306.30 720.29,306.30 718.97,306.30 718.07,306.30 717.17,306.30 716.22,306.30 715.27,306.30 714.37,306.30 713.47,306.30 712.14,306.30 711.00,306.30 710.10,306.30 709.20,306.30 707.51,306.30 706.00,306.30 705.10,306.30 704.20,306.30 703.06,306.30 701.74,306.30 700.84,306.30 699.94,306.30 698.62,306.30 697.29,306.30 696.39,306.30 695.49,306.30 694.54,306.30 693.59,306.30 692.69,306.30 691.79,306.30 691.20,306.30 690.25,306.30 689.35,306.30 688.45,306.30 686.57,306.30 684.69,306.30 683.79,306.30 682.89,306.30 681.38,306.30 680.06,306.30 679.16,306.30 678.26,306.30 677.12,306.30 675.98,306.30 675.08,306.30 674.18,306.30 673.05,306.30 671.72,306.30 670.82,306.30 669.92,306.30 668.78,306.30 666.75,306.30 664.71,306.30 663.39,306.30 662.49,306.30 661.59,306.30 660.08,306.30 658.20,306.30 657.30,306.30 656.40,306.30 655.48,306.30 654.57,306.30 653.67,306.30 652.77,306.30 651.25,306.30 649.73,306.30 648.83,306.30 647.93,306.30 646.66,306.30 645.50,306.30 644.60,306.30 643.70,306.30 642.54,306.30 641.27,306.30 640.37,306.30 639.47,306.30 637.95,306.30 636.67,306.30 635.77,306.30 634.87,306.30 633.60,306.30 632.20,306.30 631.30,306.30 630.40,306.30 629.24,306.30 627.97,306.30 627.07,306.30 626.17,306.30 625.13,306.30 624.10,306.30 623.20,306.30 622.30,306.30 621.02,306.30 619.74,306.30 618.84,306.30 617.94,306.30 616.67,306.30 615.27,306.30 614.37,306.30 613.47,306.30 612.19,306.30 610.80,306.30 609.90,306.30 609.00,306.30 607.72,306.30 606.20,306.30 605.30,306.30 604.40,306.30 603.12,306.30 601.97,306.30 601.07,306.30 600.17,306.30 599.01,306.30 597.74,306.30 596.84,306.30 595.94,306.30 594.50,306.30" fill="#3a96cf"/>
<polygon points="594.50,300.56 595.94,281.64 596.84,270.79 597.74,277.80 599.01,281.58 600.17,267.07 601.07,254.91 601.97,266.28 603.12,283.36 604.40,260.74 605.30,245.66 606.20,264.09 607.72,296.31 609.00,270.50 609.90,254.71 610.80,270.49 612.19,295.54 613.47,266.27 614.37,248.68 615.27,266.31 616.67,295.32 617.94,262.51 618.84,243.26 619.74,262.57 621.02,292.54 622.30,272.96 623.20,258.30 624.10,267.99 625.13,279.69 626.17,270.48 627.07,262.97 627.97,270.71 629.24,283.03 630.40,272.17 631.30,265.98 632.20,278.21 633.60,294.06 634.87,270.83 635.77,255.33 636.67,270.86 637.95,293.06 639.47,263.41 640.37,244.48 641.27,263.42 642.54,289.82 643.70,274.60 644.60,263.85 645.50,271.75 646.66,283.38 647.93,271.69 648.83,261.14 649.73,273.79 651.25,288.98 652.77,265.82 653.67,248.69 654.57,264.76 655.48,286.82 656.40,269.11 657.30,256.05 658.20,271.05 660.08,292.91 661.59,266.84 662.49,249.22 663.39,266.87 664.71,294.53 666.75,233.31 668.78,294.74 669.92,272.96 670.82,258.21 671.72,273.96 673.05,296.11 674.18,284.67 675.08,276.39 675.98,284.92 677.12,297.40 678.26,267.51 679.16,250.30 680.06,267.41 681.38,297.63 682.89,274.63 683.79,260.77 684.69,271.65 686.57,286.88 688.45,273.52 689.35,262.78 690.25,273.59 691.20,285.74 691.79,265.64 692.69,250.24 693.59,267.32 694.54,297.35 695.49,271.29 696.39,255.52 697.29,271.15 698.62,297.44 699.94,267.78 700.84,250.66 701.74,267.55 703.06,297.42 704.20,269.93 705.10,253.63 706.00,270.00 707.51,292.83 709.20,279.69 710.10,268.49 711.00,277.81 712.14,286.14 713.47,279.74 714.37,272.86 715.27,282.48 716.22,293.66 717.17,283.23 718.07,272.86 718.97,283.44 720.29,295.98 722.33,256.22 723.00,294.03 723.00,294.83 722.33,256.22 720.29,298.90 718.97,287.39 718.07,278.49 717.17,287.39 716.22,298.90 715.27,287.39 714.37,278.49 713.47,287.39 712.14,295.19 711.00,283.60 710.10,272.92 709.20,283.60 707.51,298.90 706.00,270.99 705.10,254.37 704.20,270.99 703.06,298.90 701.74,268.46 700.84,250.66 699.94,268.46 698.62,298.90 697.29,272.25 696.39,256.22 695.49,272.25 694.54,298.90 693.59,268.46 692.69,250.66 691.79,268.46 691.20,295.19 690.25,281.08 689.35,269.21 688.45,281.08 686.57,298.90 684.69,276.03 683.79,261.79 682.89,276.03 681.38,298.90 680.06,268.46 679.16,250.66 678.26,268.46 677.12,300.75 675.98,289.91 675.08,282.20 674.18,289.91 673.05,300.75 671.72,278.56 670.82,265.50 669.92,278.56 668.78,298.90 666.75,256.22 664.71,298.90 663.39,268.46 662.49,250.66 661.59,268.46 660.08,298.90 658.20,274.26 657.30,259.18 656.40,274.26 655.48,293.04 654.57,267.27 653.67,248.91 652.77,267.27 651.25,295.46 649.73,279.19 648.83,266.44 647.93,279.19 646.66,295.46 645.50,282.48 644.60,271.28 643.70,282.48 642.54,295.46 641.27,264.39 640.37,244.67 639.47,264.39 637.95,294.25 636.67,271.79 635.77,255.56 634.87,271.79 633.60,295.46 632.20,279.19 631.30,266.44 630.40,279.19 629.24,297.88 627.97,282.48 627.07,271.28 626.17,282.48 625.13,300.30 624.10,274.26 623.20,259.18 622.30,274.26 621.02,297.88 619.74,263.57 618.84,243.46 617.94,263.57 616.67,296.67 615.27,267.27 614.37,248.91 613.47,267.27 612.19,296.67 610.80,271.38 609.90,254.95 609.00,271.38 607.72,297.88 606.20,265.22 605.30,245.88 604.40,265.22 603.12,295.46 601.97,271.79 601.07,255.56 600.17,271.79 599.01,295.46 597.74,282.48 596.84,271.28 595.94,282.48 594.50,300.56" fill="#2f45d0"/>
<polygon points="594.50,300.56 595.94,280.90 596.84,270.40 597.74,273.41 599.01,271.77 600.17,262.33 601.07,254.34 601.97,262.36 603.12,271.29 604.40,256.56 605.30,245.48 606.20,263.21 607.72,294.55 609.00,269.72 609.90,254.52 610.80,269.86 612.19,294.40 613.47,265.42 614.37,248.47 615.27,265.48 616.67,294.29 617.94,261.67 618.84,243.07 619.74,261.71 621.02,288.57 622.30,271.98 623.20,257.53 624.10,261.47 625.13,268.46 626.17,260.86 627.07,253.41 627.97,261.95 629.24,273.41 630.40,268.14 631.30,265.67 632.20,277.57 633.60,293.09 634.87,270.13 635.77,255.13 636.67,270.01 637.95,291.96 639.47,262.65 640.37,244.29 641.27,262.59 642.54,283.62 643.70,270.01 644.60,256.49 645.50,265.87 646.66,276.26 647.93,266.10 648.83,255.99 649.73,269.78 651.25,283.30 652.77,264.92 653.67,248.49 654.57,262.74 655.48,279.29 656.40,265.38 657.30,252.75 658.20,268.68 660.08,288.88 661.59,265.14 662.49,248.35 663.39,265.11 664.71,291.58 666.75,220.19 668.78,289.10 669.92,268.77 670.82,251.96 671.72,268.82 673.05,291.94 674.18,279.77 675.08,270.49 675.98,280.35 677.12,294.82 678.26,266.52 679.16,250.01 680.06,266.51 681.38,296.50 682.89,273.09 683.79,259.61 684.69,266.73 686.57,275.34 688.45,265.59 689.35,256.33 690.25,267.48 691.20,278.74 691.79,263.46 692.69,250.02 693.59,266.49 694.54,296.37 695.49,270.16 696.39,255.02 697.29,270.07 698.62,296.50 699.94,267.13 700.84,250.66 701.74,266.95 703.06,296.49 704.20,268.63 705.10,253.03 706.00,269.02 707.51,288.48 709.20,277.06 710.10,264.90 711.00,273.05 712.14,278.19 713.47,273.11 714.37,268.07 715.27,278.15 716.22,289.56 717.17,279.67 718.07,268.68 718.97,279.51 720.29,294.08 722.33,256.22 723.00,293.60 723.00,294.03 722.33,256.22 720.29,295.98 718.97,283.44 718.07,272.86 717.17,283.23 716.22,293.66 715.27,282.48 714.37,272.86 713.47,279.74 712.14,286.14 711.00,277.81 710.10,268.49 709.20,279.69 707.51,292.83 706.00,270.00 705.10,253.63 704.20,269.93 703.06,297.42 701.74,267.55 700.84,250.66 699.94,267.78 698.62,297.44 697.29,271.15 696.39,255.52 695.49,271.29 694.54,297.35 693.59,267.32 692.69,250.24 691.79,265.64 691.20,285.74 690.25,273.59 689.35,262.78 688.45,273.52 686.57,286.88 684.69,271.65 683.79,260.77 682.89,274.63 681.38,297.63 680.06,267.41 679.16,250.30 678.26,267.51 677.12,297.40 675.98,284.92 675.08,276.39 674.18,284.67 673.05,296.11 671.72,273.96 670.82,258.21 669.92,272.96 668.78,294.74 666.75,233.31 664.71,294.53 663.39,266.87 662.49,249.22 661.59,266.84 660.08,292.91 658.20,271.05 657.30,256.05 656.40,269.11 655.48,286.82 654.57,264.76 653.67,248.69 652.77,265.82 651.25,288.98 649.73,273.79 648.83,261.14 647.93,271.69 646.66,283.38 645.50,271.75 644.60,263.85 643.70,274.60 642.54,289.82 641.27,263.42 640.37,244.48 639.47,263.41 637.95,293.06 636.67,270.86 635.77,255.33 634.87,270.83 633.60,294.06 632.20,278.21 631.30,265.98 630.40,272.17 629.24,283.03 627.97,270.71 627.07,262.97 626.17,270.48 625.13,279.69 624.10,267.99 623.20,258.30 622.30,272.96 621.02,292.54 619.74,262.57 618.84,243.26 617.94,262.51 616.67,295.32 615.27,266.31 614.37,248.68 613.47,266.27 612.19,295.54 610.80,270.49 609.90,254.71 609.00,270.50 607.72,296.31 606.20,264.09 605.30,245.66 604.40,260.74 603.12,283.36 601.97,266.28 601.07,254.91 600.17,267.07 599.01,281.58 597.74,277.80 596.84,270.79 595.94,281.64 594.50,300.56" fill="#6d3fcf"/>
<polygon points="594.50,300.56 595.94,280.35 596.84,270.16 597.74,269.91 599.01,267.26 600.17,260.08 601.07,254.02 601.97,260.55 603.12,259.96 604.40,253.07 605.30,245.32 606.20,262.55 607.72,293.44 609.00,269.07 609.90,254.40 610.80,269.11 612.19,293.29 613.47,264.72 614.37,248.34 615.27,264.75 616.67,293.28 617.94,260.91 618.84,242.91 619.74,260.87 621.02,284.56 622.30,270.95 623.20,256.93 624.10,257.36 625.13,257.11 626.17,251.93 627.07,246.03 627.97,254.39 629.24,262.31 630.40,264.23 631.30,265.35 632.20,276.98 633.60,292.07 634.87,269.53 635.77,255.00 636.67,269.51 637.95,290.88 639.47,261.70 640.37,244.11 641.27,261.75 642.54,278.71 643.70,266.13 644.60,252.35 645.50,260.92 646.66,267.84 647.93,260.34 648.83,252.18 649.73,266.08 651.25,278.93 652.77,263.98 653.67,248.34 654.57,261.22 655.48,273.17 656.40,262.49 657.30,250.54 658.20,266.26 660.08,285.57 661.59,263.98 662.49,247.18 663.39,263.99 664.71,288.66 666.75,206.82 668.78,285.47 669.92,264.77 670.82,248.39 671.72,264.71 673.05,288.71 674.18,276.73 675.08,265.43 675.98,276.76 677.12,292.21 678.26,265.79 679.16,249.81 680.06,265.77 681.38,295.55 682.89,271.91 683.79,258.41 684.69,262.15 686.57,265.26 688.45,258.94 689.35,252.17 690.25,262.25 691.20,271.87 691.79,261.04 692.69,249.80 693.59,265.80 694.54,295.49 695.49,269.12 696.39,254.54 697.29,269.20 698.62,295.49 699.94,266.41 700.84,250.66 701.74,266.42 703.06,295.58 704.20,267.81 705.10,252.63 706.00,267.91 707.51,285.23 709.20,274.37 710.10,262.47 711.00,267.81 712.14,271.21 713.47,268.62 714.37,263.81 715.27,275.06 716.22,285.50 717.17,275.51 718.07,264.95 718.97,276.60 720.29,292.06 722.33,256.22 723.00,293.07 723.00,293.60 722.33,256.22 720.29,294.08 718.97,279.51 718.07,268.68 717.17,279.67 716.22,289.56 715.27,278.15 714.37,268.07 713.47,273.11 712.14,278.19 711.00,273.05 710.10,264.90 709.20,277.06 707.51,288.48 706.00,269.02 705.10,253.03 704.20,268.63 703.06,296.49 701.74,266.95 700.84,250.66 699.94,267.13 698.62,296.50 697.29,270.07 696.39,255.02 695.49,270.16 694.54,296.37 693.59,266.49 692.69,250.02 691.79,263.46 691.20,278.74 690.25,267.48 689.35,256.33 688.45,265.59 686.57,275.34 684.69,266.73 683.79,259.61 682.89,273.09 681.38,296.50 680.06,266.51 679.16,250.01 678.26,266.52 677.12,294.82 675.98,280.35 675.08,270.49 674.18,279.77 673.05,291.94 671.72,268.82 670.82,251.96 669.92,268.77 668.78,289.10 666.75,220.19 664.71,291.58 663.39,265.11 662.49,248.35 661.59,265.14 660.08,288.88 658.20,268.68 657.30,252.75 656.40,265.38 655.48,279.29 654.57,262.74 653.67,248.49 652.77,264.92 651.25,283.30 649.73,269.78 648.83,255.99 647.93,266.10 646.66,276.26 645.50,265.87 644.60,256.49 643.70,270.01 642.54,283.62 641.27,262.59 640.37,244.29 639.47,262.65 637.95,291.96 636.67,270.01 635.77,255.13 634.87,270.13 633.60,293.09 632.20,277.57 631.30,265.67 630.40,268.14 629.24,273.41 627.97,261.95 627.07,253.41 626.17,260.86 625.13,268.46 624.10,261.47 623.20,257.53 622.30,271.98 621.02,288.57 619.74,261.71 618.84,243.07 617.94,261.67 616.67,294.29 615.27,265.48 614.37,248.47 613.47,265.42 612.19,294.40 610.80,269.86 609.90,254.52 609.00,269.72 607.72,294.55 606.20,263.21 605.30,245.48 604.40,256.56 603.12,271.29 601.97,262.36 601.07,254.34 600.17,262.33 599.01,271.77 597.74,273.41 596.84,270.40 595.94,280.90 594.50,300.56" fill="#b13db9"/>
<polygon points="594.50,300.56 595.94,280.25 596.84,270.09 597.74,268.02 599.01,262.92 600.17,258.71 601.07,253.72 601.97,259.23 603.12,257.61 604.40,252.39 605.30,245.29 606.20,262.41 607.72,293.12 609.00,268.93 609.90,254.36 610.80,268.95 612.19,293.12 613.47,264.59 614.37,248.31 615.27,264.58 616.67,293.11 617.94,260.68 618.84,242.87 619.74,260.67 621.02,283.72 622.30,270.73 623.20,256.81 624.10,256.30 625.13,253.85 626.17,250.34 627.07,244.47 627.97,253.13 629.24,260.00 630.40,263.40 631.30,265.26 632.20,276.79 633.60,291.90 634.87,269.38 635.77,254.97 636.67,269.37 637.95,290.69 639.47,261.55 640.37,244.08 641.27,261.58 642.54,277.70 643.70,265.28 644.60,251.05 645.50,259.33 646.66,265.72 647.93,259.25 648.83,251.11 649.73,265.09 651.25,277.73 652.77,263.76 653.67,248.31 654.57,260.88 655.48,271.69 656.40,261.65 657.30,249.73 658.20,265.59 660.08,284.38 661.59,263.68 662.49,247.01 663.39,263.66 664.71,287.98 666.75,203.75 668.78,284.39 669.92,263.89 670.82,247.30 671.72,263.88 673.05,287.99 674.18,275.94 675.08,264.04 675.98,275.90 677.12,291.68 678.26,265.64 679.16,249.75 680.06,265.62 681.38,295.28 682.89,271.67 683.79,258.15 684.69,261.22 686.57,262.48 688.45,257.77 689.35,250.97 690.25,261.23 691.20,269.74 691.79,260.54 692.69,249.75 693.59,265.63 694.54,295.26 695.49,268.96 696.39,254.41 697.29,268.97 698.62,295.24 699.94,266.28 700.84,250.66 701.74,266.28 703.06,295.28 704.20,267.63 705.10,252.54 706.00,267.65 707.51,284.37 709.20,273.77 710.10,261.95 711.00,266.65 712.14,269.78 713.47,267.17 714.37,262.99 715.27,274.38 716.22,284.31 717.17,274.73 718.07,263.99 718.97,275.84 720.29,291.59 722.33,256.22 723.00,292.96 723.00,293.07 722.33,256.22 720.29,292.06 718.97,276.60 718.07,264.95 717.17,275.51 716.22,285.50 715.27,275.06 714.37,263.81 713.47,268.62 712.14,271.21 711.00,267.81 710.10,262.47 709.20,274.37 707.51,285.23 706.00,267.91 705.10,252.63 704.20,267.81 703.06,295.58 701.74,266.42 700.84,250.66 699.94,266.41 698.62,295.49 697.29,269.20 696.39,254.54 695.49,269.12 694.54,295.49 693.59,265.80 692.69,249.80 691.79,261.04 691.20,271.87 690.25,262.25 689.35,252.17 688.45,258.94 686.57,265.26 684.69,262.15 683.79,258.41 682.89,271.91 681.38,295.55 680.06,265.77 679.16,249.81 678.26,265.79 677.12,292.21 675.98,276.76 675.08,265.43 674.18,276.73 673.05,288.71 671.72,264.71 670.82,248.39 669.92,264.77 668.78,285.47 666.75,206.82 664.71,288.66 663.39,263.99 662.49,247.18 661.59,263.98 660.08,285.57 658.20,266.26 657.30,250.54 656.40,262.49 655.48,273.17 654.57,261.22 653.67,248.34 652.77,263.98 651.25,278.93 649.73,266.08 648.83,252.18 647.93,260.34 646.66,267.84 645.50,260.92 644.60,252.35 643.70,266.13 642.54,278.71 641.27,261.75 640.37,244.11 639.47,261.70 637.95,290.88 636.67,269.51 635.77,255.00 634.87,269.53 633.60,292.07 632.20,276.98 631.30,265.35 630.40,264.23 629.24,262.31 627.97,254.39 627.07,246.03 626.17,251.93 625.13,257.11 624.10,257.36 623.20,256.93 622.30,270.95 621.02,284.56 619.74,260.87 618.84,242.91 617.94,260.91 616.67,293.28 615.27,264.75 614.37,248.34 613.47,264.72 612.19,293.29 610.80,269.11 609.90,254.40 609.00,269.07 607.72,293.44 606.20,262.55 605.30,245.32 604.40,253.07 603.12,259.96 601.97,260.55 601.07,254.02 600.17,260.08 599.01,267.26 597.74,269.91 596.84,270.16 595.94,280.35 594.50,300.56" fill="#c93a55"/>
<polygon points="594.50,300.56 595.94,280.21 596.84,270.07 597.74,267.09 599.01,261.13 600.17,258.01 601.07,253.57 601.97,258.60 603.12,256.77 604.40,252.13 605.30,245.28 606.20,262.36 607.72,293.04 609.00,268.89 609.90,254.35 610.80,268.89 612.19,293.04 613.47,264.54 614.37,248.30 615.27,264.54 616.67,293.04 617.94,260.62 618.84,242.86 619.74,260.62 621.02,283.37 622.30,270.64 623.20,256.77 624.10,255.98 625.13,253.14 626.17,249.76 627.07,244.07 627.97,252.72 629.24,259.18 630.40,263.09 631.30,265.23 632.20,276.73 633.60,291.83 634.87,269.33 635.77,254.95 636.67,269.33 637.95,290.62 639.47,261.49 640.37,244.07 641.27,261.49 642.54,277.32 643.70,264.87 644.60,250.72 645.50,258.94 646.66,265.23 647.93,258.94 648.83,250.72 649.73,264.87 651.25,277.32 652.77,263.68 653.67,248.30 654.57,260.72 655.48,271.28 656.40,261.31 657.30,249.51 658.20,265.41 660.08,284.05 661.59,263.57 662.49,246.95 663.39,263.57 664.71,287.76 666.75,202.42 668.78,284.05 669.92,263.57 670.82,246.95 671.72,263.57 673.05,287.76 674.18,275.59 675.08,263.65 675.98,275.59 677.12,291.47 678.26,265.57 679.16,249.73 680.06,265.57 681.38,295.19 682.89,271.58 683.79,258.08 684.69,260.86 686.57,261.79 688.45,257.23 689.35,250.66 690.25,260.86 691.20,269.21 691.79,260.41 692.69,249.73 693.59,265.57 694.54,295.19 695.49,268.91 696.39,254.37 697.29,268.91 698.62,295.19 699.94,266.24 700.84,250.66 701.74,266.24 703.06,295.19 704.20,267.57 705.10,252.51 706.00,267.57 707.51,284.05 709.20,273.59 710.10,261.79 711.00,266.32 712.14,269.21 713.47,266.77 714.37,262.72 715.27,274.04 716.22,284.05 717.17,274.50 718.07,263.65 718.97,275.59 720.29,291.47 722.33,256.22 723.00,292.92 723.00,292.96 722.33,256.22 720.29,291.59 718.97,275.84 718.07,263.99 717.17,274.73 716.22,284.31 715.27,274.38 714.37,262.99 713.47,267.17 712.14,269.78 711.00,266.65 710.10,261.95 709.20,273.77 707.51,284.37 706.00,267.65 705.10,252.54 704.20,267.63 703.06,295.28 701.74,266.28 700.84,250.66 699.94,266.28 698.62,295.24 697.29,268.97 696.39,254.41 695.49,268.96 694.54,295.26 693.59,265.63 692.69,249.75 691.79,260.54 691.20,269.74 690.25,261.23 689.35,250.97 688.45,257.77 686.57,262.48 684.69,261.22 683.79,258.15 682.89,271.67 681.38,295.28 680.06,265.62 679.16,249.75 678.26,265.64 677.12,291.68 675.98,275.90 675.08,264.04 674.18,275.94 673.05,287.99 671.72,263.88 670.82,247.30 669.92,263.89 668.78,284.39 666.75,203.75 664.71,287.98 663.39,263.66 662.49,247.01 661.59,263.68 660.08,284.38 658.20,265.59 657.30,249.73 656.40,261.65 655.48,271.69 654.57,260.88 653.67,248.31 652.77,263.76 651.25,277.73 649.73,265.09 648.83,251.11 647.93,259.25 646.66,265.72 645.50,259.33 644.60,251.05 643.70,265.28 642.54,277.70 641.27,261.58 640.37,244.08 639.47,261.55 637.95,290.69 636.67,269.37 635.77,254.97 634.87,269.38 633.60,291.90 632.20,276.79 631.30,265.26 630.40,263.40 629.24,260.00 627.97,253.13 627.07,244.47 626.17,250.34 625.13,253.85 624.10,256.30 623.20,256.81 622.30,270.73 621.02,283.72 619.74,260.67 618.84,242.87 617.94,260.68 616.67,293.11 615.27,264.58 614.37,248.31 613.47,264.59 612.19,293.12 610.80,268.95 609.90,254.36 609.00,268.93 607.72,293.12 606.20,262.41 605.30,245.29 604.40,252.39 603.12,257.61 601.97,259.23 601.07,253.72 600.17,258.71 599.01,262.92 597.74,268.02 596.84,270.09 595.94,280.25 594.50,300.56" fill="#d9603f"/>
<polygon points="594.50,300.56 595.94,280.21 596.84,270.07 597.74,264.27 599.01,256.77 600.17,255.98 601.07,253.14 601.97,255.98 603.12,256.77 604.40,252.13 605.30,245.28 606.20,262.36 607.72,293.04 609.00,268.89 609.90,254.35 610.80,268.89 612.19,293.04 613.47,264.54 614.37,248.30 615.27,264.54 616.67,293.04 617.94,260.62 618.84,242.86 619.74,260.62 621.02,283.37 622.30,270.64 623.20,256.77 624.10,255.98 625.13,253.14 626.17,249.76 627.07,244.07 627.97,252.72 629.24,259.18 630.40,263.09 631.30,265.23 632.20,276.73 633.60,291.83 634.87,269.33 635.77,254.95 636.67,269.33 637.95,290.62 639.47,261.49 640.37,244.07 641.27,261.49 642.54,277.32 643.70,264.87 644.60,250.72 645.50,258.94 646.66,265.23 647.93,258.94 648.83,250.72 649.73,264.87 651.25,277.32 652.77,263.68 653.67,248.30 654.57,260.72 655.48,271.28 656.40,261.31 657.30,249.51 658.20,265.41 660.08,284.05 661.59,263.57 662.49,246.95 663.39,263.57 664.71,287.76 666.75,202.42 668.78,284.05 669.92,263.57 670.82,246.95 671.72,263.57 673.05,287.76 674.18,275.59 675.08,263.65 675.98,275.59 677.12,291.47 678.26,265.57 679.16,249.73 680.06,265.57 681.38,295.19 682.89,271.58 683.79,258.08 684.69,260.86 686.57,261.79 688.45,257.23 689.35,250.66 690.25,260.86 691.20,269.21 691.79,260.41 692.69,249.73 693.59,265.57 694.54,295.19 695.49,268.91 696.39,254.37 697.29,268.91 698.62,295.19 699.94,266.24 700.84,250.66 701.74,266.24 703.06,295.19 704.20,267.57 705.10,252.51 706.00,267.57 707.51,284.05 709.20,273.59 710.10,261.79 711.00,266.32 712.14,269.21 713.47,266.77 714.37,262.72 715.27,274.04 716.22,284.05 717.17,274.50 718.07,263.65 718.97,275.59 720.29,291.47 722.33,256.22 723.00,292.92 723.00,292.92 722.33,256.22 720.29,291.47 718.97,275.59 718.07,263.65 717.17,274.50 716.22,284.05 715.27,274.04 714.37,262.72 713.47,266.77 712.14,269.21 711.00,266.32 710.10,261.79 709.20,273.59 707.51,284.05 706.00,267.57 705.10,252.51 704.20,267.57 703.06,295.19 701.74,266.24 700.84,250.66 699.94,266.24 698.62,295.19 697.29,268.91 696.39,254.37 695.49,268.91 694.54,295.19 693.59,265.57 692.69,249.73 691.79,260.41 691.20,269.21 690.25,260.86 689.35,250.66 688.45,257.23 686.57,261.79 684.69,260.86 683.79,258.08 682.89,271.58 681.38,295.19 680.06,265.57 679.16,249.73 678.26,265.57 677.12,291.47 675.98,275.59 675.08,263.65 674.18,275.59 673.05,287.76 671.72,263.57 670.82,246.95 669.92,263.57 668.78,284.05 666.75,202.42 664.71,287.76 663.39,263.57 662.49,246.95 661.59,263.57 660.08,284.05 658.20,265.41 657.30,249.51 656.40,261.31 655.48,271.28 654.57,260.72 653.67,248.30 652.77,263.68 651.25,277.32 649.73,264.87 648.83,250.72 647.93,258.94 646.66,265.23 645.50,258.94 644.60,250.72 643.70,264.87 642.54,277.32 641.27,261.49 640.37,244.07 639.47,261.49 637.95,290.62 636.67,269.33 635.77,254.95 634.87,269.33 633.60,291.83 632.20,276.73 631.30,265.23 630.40,263.09 629.24,259.18 627.97,252.72 627.07,244.07 626.17,249.76 625.13,253.14 624.10,255.98 623.20,256.77 622.30,270.64 621.02,283.37 619.74,260.62 618.84,242.86 617.94,260.62 616.67,293.04 615.27,264.54 614.37,248.30 613.47,264.54 612.19,293.04 610.80,268.89 609.90,254.35 609.00,268.89 607.72,293.04 606.20,262.36 605.30,245.28 604.40,252.13 603.12,256.77 601.97,258.60 601.07,253.57 600.17,258.01 599.01,261.13 597.74,267.09 596.84,270.07 595.94,280.21 594.50,300.56" fill="#c9c23a"/>
</g></g>
<line x1="621.7" y1="191.6" x2="621.7" y2="306.3" stroke="#eeeeee" stroke-width="0.9" stroke-dasharray="1,1.4"/>
<line x1="621.7" y1="306.3" x2="621.7" y2="309.3" stroke="#aaa" stroke-width="0.8"/>
<line x1="665.3" y1="191.6" x2="665.3" y2="306.3" stroke="#eeeeee" stroke-width="0.9" stroke-dasharray="1,1.4"/>
<line x1="665.3" y1="306.3" x2="665.3" y2="309.3" stroke="#aaa" stroke-width="0.8"/>
<line x1="708.3" y1="191.6" x2="708.3" y2="306.3" stroke="#eeeeee" stroke-width="0.9" stroke-dasharray="1,1.4"/>
<line x1="708.3" y1="306.3" x2="708.3" y2="309.3" stroke="#aaa" stroke-width="0.8"/>
<rect x="592.0" y="191.6" width="2.5" height="115.70000000000002" fill="#7c7c7c"/>
<line x1="592.0" y1="306.8" x2="723" y2="306.8" stroke="#8a8a8a" stroke-width="1"/>
<rect x="505" y="192.7" width="4" height="4" fill="#3a96cf"/>
<text x="512.6" y="197.7" font-family="Liberation Sans" font-size="8.15" fill="#e0e0e0" stroke="#e0e0e0" stroke-width="0.25">LDAP-SSL</text>
<rect x="505" y="204.7" width="4" height="4" fill="#2f45d0"/>
<text x="512.6" y="209.7" font-family="Liberation Sans" font-size="8.15" fill="#e0e0e0" stroke="#e0e0e0" stroke-width="0.25">CIFS</text>
<rect x="505" y="216.7" width="4" height="4" fill="#6d3fcf"/>
<text x="512.6" y="221.7" font-family="Liberation Sans" font-size="8.15" fill="#e0e0e0" stroke="#e0e0e0" stroke-width="0.25">SSH:22</text>
<rect x="505" y="228.7" width="4" height="4" fill="#b13db9"/>
<text x="512.6" y="233.7" font-family="Liberation Sans" font-size="8.15" fill="#e0e0e0" stroke="#e0e0e0" stroke-width="0.25">SSL:389</text>
<rect x="505" y="240.7" width="4" height="4" fill="#c93a55"/>
<text x="512.6" y="245.7" font-family="Liberation Sans" font-size="8.15" fill="#e0e0e0" stroke="#e0e0e0" stroke-width="0.25">DNS</text>
<rect x="505" y="252.7" width="4" height="4" fill="#d9603f"/>
<text x="512.6" y="257.7" font-family="Liberation Sans" font-size="8.15" fill="#e0e0e0" stroke="#e0e0e0" stroke-width="0.25">tcp:4949</text>
<rect x="505" y="264.7" width="4" height="4" fill="#c9c23a"/>
<text x="512.6" y="269.7" font-family="Liberation Sans" font-size="8.15" fill="#e0e0e0" stroke="#e0e0e0" stroke-width="0.25">SSL:5666</text>
<rect x="505" y="276.7" width="4" height="4" fill="#7dbb3a"/>
<text x="512.6" y="281.7" font-family="Liberation Sans" font-size="8.15" fill="#e0e0e0" stroke="#e0e0e0" stroke-width="0.25">tcp:22</text>
<rect x="505" y="288.7" width="4" height="4" fill="#33b558"/>
<text x="512.6" y="293.7" font-family="Liberation Sans" font-size="8.15" fill="#e0e0e0" stroke="#e0e0e0" stroke-width="0.25">LDAP</text>
<rect x="505" y="300.7" width="4" height="4" fill="#34b592"/>
<text x="512.6" y="305.7" font-family="Liberation Sans" font-size="8.15" fill="#e0e0e0" stroke="#e0e0e0" stroke-width="0.25">tcp:389</text>
<rect x="735.4" y="192.6" width="4" height="4" fill="#3a96cf"/>
<text x="741.3" y="197.6" font-family="Liberation Sans" font-size="8.15" fill="#e0e0e0" stroke="#e0e0e0" stroke-width="0.25">SSH:22</text>
<rect x="735.4" y="204.6" width="4" height="4" fill="#2f45d0"/>
<text x="741.3" y="209.6" font-family="Liberation Sans" font-size="8.15" fill="#e0e0e0" stroke="#e0e0e0" stroke-width="0.25">tcp:4949</text>
<rect x="735.4" y="216.6" width="4" height="4" fill="#6d3fcf"/>
<text x="741.3" y="221.6" font-family="Liberation Sans" font-size="8.15" fill="#e0e0e0" stroke="#e0e0e0" stroke-width="0.25">tcp:22</text>
<rect x="735.4" y="228.6" width="4" height="4" fill="#b13db9"/>
<text x="741.3" y="233.6" font-family="Liberation Sans" font-size="8.15" fill="#e0e0e0" stroke="#e0e0e0" stroke-width="0.25">LDAP-SSL</text>
<rect x="735.4" y="240.6" width="4" height="4" fill="#c93a55"/>
<text x="741.3" y="245.6" font-family="Liberation Sans" font-size="8.15" fill="#e0e0e0" stroke="#e0e0e0" stroke-width="0.25">CIFS</text>
<rect x="735.4" y="252.6" width="4" height="4" fill="#d9603f"/>
<text x="741.3" y="257.6" font-family="Liberation Sans" font-size="8.15" fill="#e0e0e0" stroke="#e0e0e0" stroke-width="0.25">DNS</text>
<rect x="735.4" y="264.5" width="4" height="4" fill="#c9c23a"/>
<text x="741.3" y="269.5" font-family="Liberation Sans" font-size="8.15" fill="#e0e0e0" stroke="#e0e0e0" stroke-width="0.25">SSL:389</text>
<rect x="735.4" y="276.5" width="4" height="4" fill="#7dbb3a"/>
<text x="741.3" y="281.5" font-family="Liberation Sans" font-size="8.15" fill="#e0e0e0" stroke="#e0e0e0" stroke-width="0.25">SSL:5666</text>
<rect x="735.4" y="288.5" width="4" height="4" fill="#33b558"/>
<text x="741.3" y="293.5" font-family="Liberation Sans" font-size="8.15" fill="#e0e0e0" stroke="#e0e0e0" stroke-width="0.25">OTHER</text>
<rect x="735.4" y="300.5" width="4" height="4" fill="#34b592"/>
<text x="741.3" y="305.5" font-family="Liberation Sans" font-size="8.15" fill="#e0e0e0" stroke="#e0e0e0" stroke-width="0.25">tcp:514</text>
</svg>
<div class="t" style="left:339.30px;top:350.23px;font-size:8.0px;font-weight:bold;font-style:normal;color:#dddddd;">Top Peers</div>
<svg style="position:absolute;left:381px;top:347.5px" width="6" height="4"><path d="M0 0.3 H5 L2.5 3.2Z" fill="#dddddd"/></svg>
<div style="position:absolute;left:338px;top:360.5px;width:443px;height:84px;background:#2a2a2a;border:1px solid #3a3a3a;box-sizing:border-box"></div>
<div style="position:absolute;left:338px;top:360.5px;width:443px;height:17.5px;background:#1a1a1a;"></div>
<div style="position:absolute;left:416.5px;top:360.5px;width:1px;height:17.5px;background:#2c2c2c;"></div>
<div style="position:absolute;left:416.5px;top:378px;width:1px;height:66px;background:#313131;"></div>
<div style="position:absolute;left:527.5px;top:360.5px;width:1px;height:17.5px;background:#2c2c2c;"></div>
<div style="position:absolute;left:527.5px;top:378px;width:1px;height:66px;background:#313131;"></div>
<div style="position:absolute;left:555px;top:360.5px;width:1px;height:17.5px;background:#2c2c2c;"></div>
<div style="position:absolute;left:555px;top:378px;width:1px;height:66px;background:#313131;"></div>
<div style="position:absolute;left:621.5px;top:360.5px;width:1px;height:17.5px;background:#2c2c2c;"></div>
<div style="position:absolute;left:621.5px;top:378px;width:1px;height:66px;background:#313131;"></div>
<div style="position:absolute;left:688px;top:360.5px;width:1px;height:17.5px;background:#2c2c2c;"></div>
<div style="position:absolute;left:688px;top:378px;width:1px;height:66px;background:#313131;"></div>
<div style="position:absolute;left:339px;top:392px;width:441px;height:1px;background:#383838;"></div>
<div style="position:absolute;left:339px;top:405px;width:441px;height:1px;background:#383838;"></div>
<div style="position:absolute;left:339px;top:418.5px;width:441px;height:1px;background:#383838;"></div>
<div style="position:absolute;left:339px;top:431.5px;width:441px;height:1px;background:#383838;"></div>
<div class="t" style="left:341.70px;top:369.65px;font-size:8.5px;font-weight:bold;font-style:normal;color:#eeeeee;">IP</div>
<div class="t" style="left:420.00px;top:369.65px;font-size:8.5px;font-weight:bold;font-style:normal;color:#eeeeee;">Host</div>
<div class="t" style="left:531.00px;top:369.65px;font-size:8.5px;font-weight:bold;font-style:normal;color:#eeeeee;">Port</div>
<div class="t" style="right:188.00px;top:369.65px;font-size:8.5px;font-weight:bold;font-style:normal;color:#eeeeee;">Bytes In</div>
<div class="t" style="left:614.30px;transform:translateX(-50%);top:370.55px;font-size:6.5px;font-weight:normal;font-style:normal;color:#aaaaaa;">&#8595;</div>
<div class="t" style="right:114.00px;top:369.67px;font-size:8.47px;font-weight:bold;font-style:normal;color:#eeeeee;">Bytes Out</div>
<div class="t" style="left:341.90px;top:385.48px;font-size:9.0px;font-weight:normal;font-style:normal;color:#eeeeee;">192.168.221.102</div>
<div class="t" style="left:419.00px;top:385.41px;font-size:9.2px;font-weight:normal;font-style:normal;color:#68acdf;">workstation-physician-01</div>
<div style="position:absolute;left:531px;top:385.6px;width:6px;height:1px;background:#999999;"></div>
<div class="t" style="right:181.20px;top:385.48px;font-size:9.0px;font-weight:normal;font-style:normal;color:#eeeeee;">1,746,209,364</div>
<div class="t" style="right:114.00px;top:385.48px;font-size:9.0px;font-weight:normal;font-style:normal;color:#eeeeee;">2,227,615,811</div>
<div class="t" style="left:341.90px;top:398.48px;font-size:9.0px;font-weight:normal;font-style:normal;color:#eeeeee;">192.168.221.22</div>
<div class="t" style="left:419.00px;top:398.41px;font-size:9.2px;font-weight:normal;font-style:normal;color:#68acdf;">web-drupal-01</div>
<div style="position:absolute;left:531px;top:398.6px;width:6px;height:1px;background:#999999;"></div>
<div class="t" style="right:181.20px;top:398.48px;font-size:9.0px;font-weight:normal;font-style:normal;color:#eeeeee;">501,056</div>
<div class="t" style="right:114.00px;top:398.48px;font-size:9.0px;font-weight:normal;font-style:normal;color:#eeeeee;">1,644</div>
<div class="t" style="left:341.90px;top:411.48px;font-size:9.0px;font-weight:normal;font-style:normal;color:#eeeeee;">192.168.221.11</div>
<svg style="position:absolute;left:418px;top:407.6px" width="10" height="8"><path d="M1.5 6.6 L1 2.8 L3.1 4.5 L4.7 2.1 L6.3 4.5 L8.4 2.8 L7.9 6.6 Z" fill="#e8c31c"/></svg>
<div class="t" style="left:429.00px;top:411.41px;font-size:9.2px;font-weight:normal;font-style:normal;color:#68acdf;">domain-controller-01</div>
<div style="position:absolute;left:531px;top:411.6px;width:6px;height:1px;background:#999999;"></div>
<div class="t" style="right:181.20px;top:411.48px;font-size:9.0px;font-weight:normal;font-style:normal;color:#eeeeee;">93,872</div>
<div class="t" style="right:114.00px;top:411.48px;font-size:9.0px;font-weight:normal;font-style:normal;color:#eeeeee;">138,306</div>
<div class="t" style="left:341.90px;top:424.48px;font-size:9.0px;font-weight:normal;font-style:normal;color:#eeeeee;">192.168.221.104</div>
<div class="t" style="left:419.00px;top:424.41px;font-size:9.2px;font-weight:normal;font-style:normal;color:#68acdf;">workstation-physician-03</div>
<div style="position:absolute;left:531px;top:424.6px;width:6px;height:1px;background:#999999;"></div>
<div class="t" style="right:181.20px;top:424.48px;font-size:9.0px;font-weight:normal;font-style:normal;color:#eeeeee;">41,204</div>
<div class="t" style="right:114.00px;top:424.48px;font-size:9.0px;font-weight:normal;font-style:normal;color:#eeeeee;">45,417</div>
<div class="t" style="left:341.90px;top:437.48px;font-size:9.0px;font-weight:normal;font-style:normal;color:#eeeeee;">192.168.221.255</div>
<div class="t" style="left:419.00px;top:437.45px;font-size:9.1px;font-weight:normal;font-style:normal;color:#eeeeee;">192.168.221.255</div>
<div class="t" style="left:531.00px;top:437.48px;font-size:9.0px;font-weight:normal;font-style:normal;color:#eeeeee;">138</div>
<div class="t" style="right:181.20px;top:437.48px;font-size:9.0px;font-weight:normal;font-style:normal;color:#eeeeee;">0</div>
<div class="t" style="right:114.00px;top:437.48px;font-size:9.0px;font-weight:normal;font-style:normal;color:#eeeeee;">4,809</div>
<div class="t" style="right:21.50px;top:331.88px;font-size:9.0px;font-weight:normal;font-style:normal;color:#68acdf;">View More L7 Protocols</div>
<svg style="position:absolute;left:777.5px;top:327px" width="9" height="9"><path d="M1 4.5 H7" stroke="#68acdf" stroke-width="2" stroke-linecap="round"/><path d="M4.2 1.6 L7.2 4.5 L4.2 7.4" fill="none" stroke="#68acdf" stroke-width="2" stroke-linecap="round" stroke-linejoin="round"/></svg>
<div class="t" style="right:24.50px;top:459.43px;font-size:8.85px;font-weight:normal;font-style:normal;color:#68acdf;">View More Peer IPs</div>
<svg style="position:absolute;left:774.5px;top:455px" width="9" height="9"><path d="M1 4.5 H7" stroke="#68acdf" stroke-width="2" stroke-linecap="round"/><path d="M4.2 1.6 L7.2 4.5 L4.2 7.4" fill="none" stroke="#68acdf" stroke-width="2" stroke-linecap="round" stroke-linejoin="round"/></svg>
</body></html>
